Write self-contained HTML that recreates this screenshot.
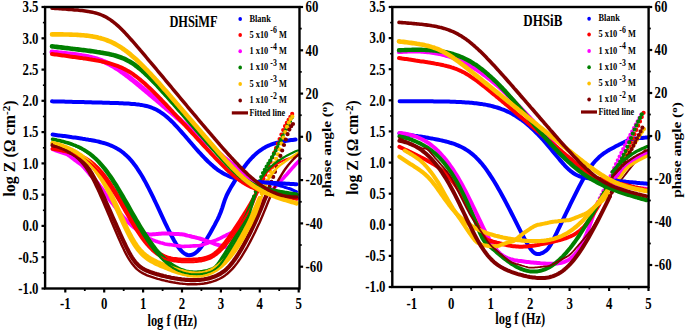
<!DOCTYPE html><html><head><meta charset="utf-8"><style>html,body{margin:0;padding:0;background:#fff;width:685px;height:330px;overflow:hidden}svg{display:block}text{font-family:"Liberation Serif",serif;fill:#000}</style></head><body>
<svg width="685" height="330" viewBox="0 0 685 330">
<path d="M52.6,134.6 L54.1,134.8 L55.6,135.0 L57.1,135.2 L58.6,135.4 L60.1,135.6 L61.6,135.7 L63.1,135.9 L64.6,136.1 L66.1,136.3 L67.6,136.5 L69.1,136.7 L70.6,136.9 L72.1,137.2 L73.6,137.4 L75.1,137.6 L76.6,137.8 L78.1,138.0 L79.6,138.2 L81.1,138.4 L82.6,138.7 L84.1,138.9 L85.6,139.2 L87.1,139.4 L88.6,139.7 L90.1,139.9 L91.6,140.2 L93.1,140.5 L94.6,140.8 L96.1,141.1 L97.6,141.4 L99.1,141.8 L100.6,142.2 L102.1,142.6 L103.6,143.0 L105.1,143.4 L106.6,143.9 L108.1,144.4 L109.6,145.0 L111.1,145.6 L112.6,146.3 L114.1,147.0 L115.6,147.7 L117.1,148.6 L118.6,149.5 L120.1,150.4 L121.6,151.5 L123.1,152.6 L124.6,153.9 L126.1,155.2 L127.6,156.6 L129.1,158.2 L130.6,159.8 L132.1,161.6 L133.6,163.5 L135.1,165.4 L136.6,167.5 L138.1,169.8 L139.6,172.1 L141.1,174.5 L142.6,177.0 L144.1,179.7 L145.6,182.4 L147.1,185.2 L148.6,188.1 L150.1,191.1 L151.6,194.1 L153.1,197.2 L154.6,200.3 L156.1,203.5 L157.6,206.7 L159.1,209.9 L160.6,213.2 L162.1,216.4 L163.6,219.6 L165.1,222.8 L166.6,225.9 L168.1,229.0 L169.6,232.0 L171.1,235.0 L172.6,237.8 L174.1,240.5 L175.6,243.0 L177.1,245.3 L178.6,247.5 L180.1,249.4 L181.6,251.1 L183.1,252.5 L184.6,253.6 L186.1,254.5 L187.6,255.0 L189.1,255.2 L190.6,255.1 L192.1,254.8 L193.6,254.1 L195.1,253.2 L196.6,252.0 L198.1,250.6 L199.6,248.9 L201.1,247.1 L202.6,245.1 L204.1,242.9 L205.6,240.7 L207.1,238.3 L208.6,235.8 L210.1,233.2 L211.6,230.5 L213.1,227.8 L214.6,225.1 L216.1,222.2 L217.6,219.3 L219.1,216.1 L220.6,212.5 L222.1,208.3 L223.6,203.6 L225.1,199.2 L226.6,195.5 L228.1,192.5 L229.6,189.7 L231.1,187.1 L232.6,184.6 L234.1,182.1 L235.6,179.7 L237.1,177.3 L238.6,175.0 L240.1,172.8 L241.6,170.6 L243.1,168.5 L244.6,166.5 L246.1,164.5 L247.6,162.6 L249.1,160.8 L250.6,159.1 L252.1,157.5 L253.6,156.0 L255.1,154.6 L256.6,153.2 L258.1,152.0 L259.6,150.9 L261.1,149.8 L262.6,148.8 L264.1,147.9 L265.6,147.1 L267.1,146.3 L268.6,145.6 L270.1,145.0 L271.6,144.4 L273.1,143.9 L274.6,143.4 L276.1,143.0 L277.6,142.6 L279.1,142.2 L280.6,141.9 L282.1,141.6 L283.6,141.3 L285.1,141.0 L286.6,140.8 L288.1,140.6 L289.6,140.3 L291.1,140.1 L292.6,140.0 L294.1,139.8 L295.6,139.6" fill="none" stroke="#0000ff" stroke-width="4.0" stroke-linecap="round" stroke-linejoin="round"/>
<path d="M52.6,149.2 L54.1,149.7 L55.6,150.3 L57.1,150.8 L58.6,151.3 L60.1,151.8 L61.6,152.4 L63.1,152.9 L64.6,153.4 L66.1,153.9 L67.6,154.5 L69.1,155.5 L70.6,156.7 L72.1,157.8 L73.6,158.9 L75.1,160.1 L76.6,161.2 L78.1,162.3 L79.6,163.3 L81.1,164.4 L82.6,165.8 L84.1,167.4 L85.6,169.2 L87.1,171.0 L88.6,172.8 L90.1,174.6 L91.6,176.3 L93.1,178.0 L94.6,179.6 L96.1,181.3 L97.6,183.1 L99.1,184.9 L100.6,186.9 L102.1,189.0 L103.6,191.2 L105.1,193.5 L106.6,195.7 L108.1,197.8 L109.6,199.8 L111.1,201.6 L112.6,203.4 L114.1,205.4 L115.6,207.3 L117.1,209.3 L118.6,211.2 L120.1,213.2 L121.6,215.1 L123.1,216.9 L124.6,218.5 L126.1,220.0 L127.6,221.5 L129.1,223.0 L130.6,224.4 L132.1,225.8 L133.6,227.1 L135.1,228.2 L136.6,229.3 L138.1,230.2 L139.6,231.0 L141.1,231.8 L142.6,232.6 L144.1,233.2 L145.6,233.7 L147.1,234.1 L148.6,234.3 L150.1,234.4 L151.6,234.4 L153.1,234.3 L154.6,234.2 L156.1,234.1 L157.6,233.9 L159.1,233.8 L160.6,233.7 L162.1,233.6 L163.6,233.5 L165.1,233.4 L166.6,233.4 L168.1,233.4 L169.6,233.6 L171.1,233.7 L172.6,233.8 L174.1,233.9 L175.6,233.9 L177.1,234.0 L178.6,234.1 L180.1,234.2 L181.6,234.2 L183.1,234.4 L184.6,234.8 L186.1,235.2 L187.6,235.6 L189.1,235.9 L190.6,236.3 L192.1,236.7 L193.6,237.0 L195.1,237.4 L196.6,237.8 L198.1,238.1 L199.6,238.5 L201.1,239.0 L202.6,239.5 L204.1,240.0 L205.6,240.6 L207.1,241.1 L208.6,241.6 L210.1,242.2 L211.6,242.7 L213.1,243.2 L214.6,243.8 L216.1,244.4 L217.6,244.8 L219.1,245.2 L220.6,245.5 L222.1,245.9 L223.6,246.3 L225.1,246.7 L226.6,247.1 L228.0,247.4" fill="none" stroke="#ff00ff" stroke-width="4.0" stroke-linecap="round" stroke-linejoin="round"/>
<path d="M138.0,231.0 L139.5,232.1 L141.0,233.1 L142.5,234.2 L144.0,235.2 L145.5,236.2 L147.0,237.1 L148.5,238.0 L150.0,238.8 L151.5,239.5 L153.0,240.1 L154.5,240.7 L156.0,241.3 L157.5,241.8 L159.0,242.2 L160.5,242.7 L162.0,243.1 L163.5,243.5 L165.0,243.9 L166.5,244.2 L168.0,244.5 L169.5,244.6 L171.0,244.8 L172.5,245.0 L174.0,245.2 L175.5,245.5 L177.0,245.7 L178.5,245.9 L180.0,246.1 L181.5,246.4 L183.0,246.5 L184.5,246.4 L186.0,246.3 L187.5,246.2 L189.0,246.2 L190.5,246.1 L192.0,246.0 L193.5,245.9 L195.0,245.9 L196.5,245.8 L198.0,245.7 L199.5,245.7 L201.0,245.3 L202.5,244.8 L204.0,244.2 L205.5,243.7 L207.0,243.2 L208.5,242.7 L210.0,242.1 L211.5,241.6 L213.0,241.1 L214.5,240.6 L216.0,240.1 L217.5,239.5 L219.0,238.8 L220.5,238.1 L222.0,237.3 L223.5,236.5 L225.0,235.8 L226.5,235.0 L228.0,234.3 L229.5,233.6 L231.0,232.9 L232.5,232.2 L234.0,231.4 L235.5,230.5 L237.0,229.5 L238.5,228.5 L240.0,227.5 L241.5,226.5 L243.0,225.4 L244.5,224.3 L246.0,223.1 L247.5,221.8 L249.0,220.2 L250.5,218.5 L252.0,216.6 L253.5,214.6 L255.0,212.4 L256.5,210.2 L258.0,208.0 L259.5,205.7 L261.0,203.5 L262.5,201.4 L264.0,199.4 L265.5,197.6 L267.0,195.9 L268.5,194.2 L270.0,192.5 L271.5,190.9 L273.0,189.2 L274.5,187.6 L276.0,186.0 L277.5,184.4 L279.0,182.8 L280.5,181.2 L282.0,179.6 L283.5,178.0 L285.0,176.3 L286.5,174.7 L288.0,173.0 L289.5,171.3 L291.0,169.6 L292.5,167.9 L294.0,166.2 L295.5,164.6 L297.0,163.0 L298.5,161.4 L299.0,160.9" fill="none" stroke="#ff00ff" stroke-width="3.6" stroke-linecap="round" stroke-linejoin="round"/>
<path d="M52.6,148.7 L54.1,148.9 L55.6,149.2 L57.1,149.5 L58.6,149.8 L60.1,150.1 L61.6,150.4 L63.1,150.7 L64.6,151.1 L66.1,151.4 L67.6,151.8 L69.1,152.2 L70.6,152.6 L72.1,153.0 L73.6,153.5 L75.1,154.0 L76.6,154.5 L78.1,155.0 L79.6,155.6 L81.1,156.3 L82.6,157.0 L84.1,157.7 L85.6,158.5 L87.1,159.4 L88.6,160.4 L90.1,161.4 L91.6,162.6 L93.1,163.8 L94.6,165.1 L96.1,166.5 L97.6,167.9 L99.1,169.5 L100.6,171.2 L102.1,172.9 L103.6,174.8 L105.1,176.7 L106.6,178.7 L108.1,180.8 L109.6,183.0 L111.1,185.2 L112.6,187.5 L114.1,189.9 L115.6,192.2 L117.1,194.7 L118.6,197.1 L120.1,199.6 L121.6,202.1 L123.1,204.6 L124.6,207.2 L126.1,209.7 L127.6,212.3 L129.1,214.8 L130.6,217.3 L132.1,219.8 L133.6,222.3 L135.1,224.7 L136.6,227.1 L138.1,229.4 L139.6,231.7 L141.1,233.9 L142.6,236.1 L144.1,238.2 L145.6,240.2 L147.1,242.1 L148.6,243.9 L150.1,245.5 L151.6,247.1 L153.1,248.6 L154.6,250.0 L156.1,251.2 L157.6,252.4 L159.1,253.4 L160.6,254.3 L162.1,255.1 L163.6,255.9 L165.1,256.5 L166.6,257.1 L168.1,257.6 L169.6,258.0 L171.1,258.4 L172.6,258.7 L174.1,258.9 L175.6,259.1 L177.1,259.3 L178.6,259.5 L180.1,259.6 L181.6,259.7 L183.1,259.7 L184.6,259.8 L186.1,259.8 L187.6,259.8 L189.1,259.8 L190.6,259.8 L192.1,259.7 L193.6,259.6 L195.1,259.5 L196.6,259.4 L198.1,259.3 L199.6,259.1 L201.1,258.9 L202.6,258.6 L204.1,258.3 L205.6,257.9 L207.1,257.5 L208.6,256.9 L210.1,256.3 L211.6,255.5 L213.1,254.6 L214.6,253.6 L216.1,252.4 L217.6,251.1 L219.1,249.7 L220.6,248.1 L222.1,246.4 L223.6,244.6 L225.1,242.7 L226.6,240.7 L228.1,238.7 L229.6,236.6 L231.1,234.4 L232.6,232.2 L234.1,230.0 L235.6,227.7 L237.1,225.4 L238.6,223.1 L240.1,220.8 L241.6,218.4 L243.1,216.0 L244.6,213.6 L246.1,211.2 L247.6,208.7 L249.1,206.2 L250.6,203.7 L252.1,201.1 L253.6,198.4 L255.1,195.6 L256.6,192.8 L258.1,189.9" fill="none" stroke="#ff0000" stroke-width="4.0" stroke-linecap="round" stroke-linejoin="round"/>
<path d="M258.0 190.1h0M259.8 186.5h0M261.6 182.7h0M263.4 178.8h0M265.2 174.7h0M267.0 170.5h0M268.8 166.2h0M270.6 161.8h0M272.4 157.4h0M274.2 152.8h0M276.0 148.2h0M277.8 143.6h0M279.6 139.0h0M281.4 134.5h0M283.2 130.1h0M285.0 126.2h0M286.8 122.9h0M288.6 119.8h0M290.4 116.8h0M292.2 113.9h0" stroke="#ff0000" stroke-width="4.2" stroke-linecap="round" fill="none"/>
<path d="M52.6,139.2 L54.1,139.5 L55.6,139.8 L57.1,140.2 L58.6,140.5 L60.1,140.8 L61.6,141.2 L63.1,141.6 L64.6,142.0 L66.1,142.4 L67.6,142.8 L69.1,143.3 L70.6,143.8 L72.1,144.3 L73.6,144.9 L75.1,145.4 L76.6,146.1 L78.1,146.7 L79.6,147.4 L81.1,148.2 L82.6,149.0 L84.1,149.8 L85.6,150.7 L87.1,151.7 L88.6,152.7 L90.1,153.8 L91.6,154.9 L93.1,156.2 L94.6,157.5 L96.1,158.9 L97.6,160.3 L99.1,161.8 L100.6,163.4 L102.1,165.1 L103.6,166.9 L105.1,168.7 L106.6,170.7 L108.1,172.7 L109.6,174.8 L111.1,176.9 L112.6,179.1 L114.1,181.4 L115.6,183.8 L117.1,186.1 L118.6,188.6 L120.1,191.1 L121.6,193.6 L123.1,196.2 L124.6,198.8 L126.1,201.4 L127.6,204.0 L129.1,206.7 L130.6,209.3 L132.1,212.0 L133.6,214.6 L135.1,217.2 L136.6,219.8 L138.1,222.3 L139.6,224.9 L141.1,227.4 L142.6,229.8 L144.1,232.2 L145.6,234.5 L147.1,236.8 L148.6,239.1 L150.1,241.2 L151.6,243.3 L153.1,245.4 L154.6,247.4 L156.1,249.3 L157.6,251.1 L159.1,252.8 L160.6,254.5 L162.1,256.1 L163.6,257.6 L165.1,259.0 L166.6,260.4 L168.1,261.7 L169.6,262.9 L171.1,264.0 L172.6,265.1 L174.1,266.0 L175.6,266.9 L177.1,267.7 L178.6,268.5 L180.1,269.2 L181.6,269.8 L183.1,270.3 L184.6,270.8 L186.1,271.2 L187.6,271.5 L189.1,271.8 L190.6,272.0 L192.1,272.1 L193.6,272.2 L195.1,272.2 L196.6,272.2 L198.1,272.1 L199.6,272.0 L201.1,271.8 L202.6,271.6 L204.1,271.3 L205.6,271.0 L207.1,270.7 L208.6,270.3 L210.1,269.8 L211.6,269.3 L213.1,268.6 L214.6,267.7 L216.1,266.3 L217.6,264.6 L219.1,262.6 L220.6,260.4 L222.1,258.1 L223.6,255.8 L225.1,253.4 L226.6,251.0 L228.1,248.6 L229.6,246.1 L231.1,243.7 L232.6,241.1 L234.1,238.6 L235.6,236.0 L237.1,233.3 L238.6,230.6 L240.1,227.9 L241.6,225.0 L243.1,222.1 L244.6,219.1 L246.1,215.9 L247.6,212.7 L249.1,209.2 L250.6,205.6 L252.1,201.8 L253.6,197.8" fill="none" stroke="#008000" stroke-width="3.6" stroke-linecap="round" stroke-linejoin="round"/>
<path d="M254.0 196.7h0M255.8 191.6h0M257.6 186.4h0M259.4 181.4h0M261.2 177.0h0M263.0 173.1h0M264.8 169.8h0M266.6 166.7h0M268.4 163.6h0M270.2 160.5h0M272.0 157.3h0M273.8 153.9h0M275.6 150.5h0M277.4 147.0h0M279.2 143.4h0M281.0 139.8h0M282.8 136.2h0M284.6 132.5h0M286.4 128.8h0M288.2 125.1h0M290.0 121.3h0M291.8 117.6h0" stroke="#008000" stroke-width="4.2" stroke-linecap="round" fill="none"/>
<path d="M52.6,143.1 L54.1,143.5 L55.6,143.9 L57.1,144.3 L58.6,144.8 L60.1,145.3 L61.6,145.8 L63.1,146.3 L64.6,146.9 L66.1,147.5 L67.6,148.1 L69.1,148.8 L70.6,149.5 L72.1,150.2 L73.6,151.0 L75.1,151.8 L76.6,152.7 L78.1,153.7 L79.6,154.6 L81.1,155.7 L82.6,156.8 L84.1,158.0 L85.6,159.2 L87.1,160.5 L88.6,161.9 L90.1,163.4 L91.6,165.0 L93.1,166.7 L94.6,168.4 L96.1,170.3 L97.6,172.2 L99.1,174.3 L100.6,176.5 L102.1,178.8 L103.6,181.1 L105.1,183.6 L106.6,186.3 L108.1,189.0 L109.6,191.8 L111.1,194.7 L112.6,197.7 L114.1,200.8 L115.6,204.0 L117.1,207.2 L118.6,210.4 L120.1,213.7 L121.6,217.0 L123.1,220.3 L124.6,223.6 L126.1,226.8 L127.6,229.9 L129.1,232.9 L130.6,235.7 L132.1,238.5 L133.6,241.0 L135.1,243.4 L136.6,245.6 L138.1,247.6 L139.6,249.5 L141.1,251.2 L142.6,252.7 L144.1,254.1 L145.6,255.3 L147.1,256.4 L148.6,257.5 L150.1,258.4 L151.6,259.3 L153.1,260.1 L154.6,260.8 L156.1,261.6 L157.6,262.3 L159.1,262.9 L160.6,263.6 L162.1,264.2 L163.6,264.8 L165.1,265.5 L166.6,266.1 L168.1,266.6 L169.6,267.2 L171.1,267.8 L172.6,268.4 L174.1,268.9 L175.6,269.4 L177.1,269.9 L178.6,270.4 L180.1,270.9 L181.6,271.3 L183.1,271.8 L184.6,272.1 L186.1,272.5 L187.6,272.8 L189.1,273.1 L190.6,273.3 L192.1,273.5 L193.6,273.6 L195.1,273.7 L196.6,273.7 L198.1,273.7 L199.6,273.6 L201.1,273.5 L202.6,273.3 L204.1,273.0 L205.6,272.6 L207.1,272.1 L208.6,271.6 L210.1,271.0 L211.6,270.3 L213.1,269.5 L214.6,268.7 L216.1,267.7 L217.6,266.6 L219.1,265.5 L220.6,264.2 L222.1,262.9 L223.6,261.4 L225.1,259.9 L226.6,258.2 L228.1,256.5 L229.6,254.6 L231.1,252.7 L232.6,250.6 L234.1,248.5 L235.6,246.2 L237.1,243.9 L238.6,241.5 L240.1,238.9 L241.6,236.3 L243.1,233.6 L244.6,230.8 L246.1,227.9 L247.6,224.9 L249.1,221.9 L250.6,218.8 L252.1,215.6 L253.6,212.3 L255.1,209.0 L256.6,205.7 L258.1,202.2 L259.6,198.7" fill="none" stroke="#ffc000" stroke-width="4.6" stroke-linecap="round" stroke-linejoin="round"/>
<path d="M260.0 197.8h0M261.8 193.5h0M263.6 189.2h0M265.4 184.9h0M267.2 180.5h0M269.0 176.2h0M270.8 171.8h0M272.6 167.5h0M274.4 163.2h0M276.2 158.9h0M278.0 154.4h0M279.8 149.3h0M281.6 143.6h0M283.4 137.7h0M285.2 132.0h0M287.0 126.9h0M288.8 122.6h0M290.6 119.1h0M292.4 116.6h0" stroke="#ffc000" stroke-width="4.2" stroke-linecap="round" fill="none"/>
<path d="M52.6,145.2 L54.1,145.8 L55.6,146.3 L57.1,146.9 L58.6,147.4 L60.1,148.0 L61.6,148.6 L63.1,149.2 L64.6,149.8 L66.1,150.4 L67.6,151.1 L69.1,151.8 L70.6,152.5 L72.1,153.3 L73.6,154.2 L75.1,155.1 L76.6,156.1 L78.1,157.2 L79.6,158.4 L81.1,159.7 L82.6,161.2 L84.1,162.8 L85.6,164.6 L87.1,166.6 L88.6,168.7 L90.1,171.0 L91.6,173.4 L93.1,176.0 L94.6,178.7 L96.1,181.5 L97.6,184.5 L99.1,187.5 L100.6,190.6 L102.1,193.8 L103.6,197.0 L105.1,200.3 L106.6,203.6 L108.1,206.9 L109.6,210.2 L111.1,213.6 L112.6,217.0 L114.1,220.3 L115.6,223.7 L117.1,227.1 L118.6,230.4 L120.1,233.8 L121.6,237.1 L123.1,240.3 L124.6,243.5 L126.1,246.6 L127.6,249.6 L129.1,252.4 L130.6,255.1 L132.1,257.6 L133.6,259.8 L135.1,261.8 L136.6,263.6 L138.1,265.1 L139.6,266.4 L141.1,267.5 L142.6,268.5 L144.1,269.4 L145.6,270.1 L147.1,270.8 L148.6,271.4 L150.1,272.0 L151.6,272.5 L153.1,273.0 L154.6,273.5 L156.1,273.9 L157.6,274.4 L159.1,274.8 L160.6,275.2 L162.1,275.6 L163.6,276.0 L165.1,276.3 L166.6,276.7 L168.1,277.0 L169.6,277.3 L171.1,277.7 L172.6,278.0 L174.1,278.2 L175.6,278.5 L177.1,278.7 L178.6,279.0 L180.1,279.2 L181.6,279.4 L183.1,279.5 L184.6,279.7 L186.1,279.8 L187.6,279.9 L189.1,280.0 L190.6,280.1 L192.1,280.1 L193.6,280.1 L195.1,280.1 L196.6,280.0 L198.1,279.9 L199.6,279.8 L201.1,279.7 L202.6,279.5 L204.1,279.3 L205.6,279.0 L207.1,278.7 L208.6,278.4 L210.1,278.0 L211.6,277.5 L213.1,277.0 L214.6,276.5 L216.1,275.9 L217.6,275.2 L219.1,274.4 L220.6,273.6 L222.1,272.6 L223.6,271.6 L225.1,270.4 L226.6,269.1 L228.1,267.6 L229.6,266.0 L231.1,264.2 L232.6,262.4 L234.1,260.3 L235.6,258.2 L237.1,256.0 L238.6,253.6 L240.1,251.2 L241.6,248.6 L243.1,246.0 L244.6,243.3 L246.1,240.5 L247.6,237.6 L249.1,234.7 L250.6,231.7 L252.1,228.6 L253.6,225.4 L255.1,222.1 L256.6,218.8 L258.1,215.4 L259.6,211.9 L261.1,208.4 L262.6,204.7 L264.1,201.0 L265.6,197.2" fill="none" stroke="#800000" stroke-width="4.2" stroke-linecap="round" stroke-linejoin="round"/>
<path d="M266.0 196.2h0M267.8 191.5h0M269.6 186.7h0M271.4 181.9h0M273.2 176.9h0M275.0 171.8h0M276.8 166.6h0M278.6 161.3h0M280.4 155.9h0M282.2 150.5h0M284.0 145.0h0M285.8 139.5h0M287.6 134.2h0M289.4 129.6h0M291.2 126.2h0M293.0 124.0h0" stroke="#800000" stroke-width="4.2" stroke-linecap="round" fill="none"/>
<path d="M54.1,148.9 L55.6,149.2 L57.1,149.5 L58.6,149.9 L60.1,150.2 L61.6,150.5 L63.1,150.9 L64.6,151.3 L66.1,151.7 L67.6,152.1 L69.1,152.6 L70.6,153.0 L72.1,153.5 L73.6,154.0 L75.1,154.6 L76.6,155.2 L78.1,155.8 L79.6,156.5 L81.1,157.2 L82.6,158.0 L84.1,158.9 L85.6,159.8 L87.1,160.8 L88.6,161.8 L90.1,163.0 L91.6,164.2 L93.1,165.5 L94.6,167.0 L96.1,168.5 L97.6,170.1 L99.1,171.8 L100.6,173.6 L102.1,175.5 L103.6,177.5 L105.1,179.5 L106.6,181.7 L108.1,183.9 L109.6,186.2 L111.1,188.5 L112.6,190.9 L114.1,193.4 L115.6,195.9 L117.1,198.4 L118.6,201.0 L120.1,203.6 L121.6,206.2 L123.1,208.8 L124.6,211.4 L126.1,214.0 L127.6,216.6 L129.1,219.2 L130.6,221.8 L132.1,224.3 L133.6,226.8 L135.1,229.2 L136.6,231.5 L138.1,233.8 L139.6,236.0 L141.1,238.2 L142.6,240.2 L144.1,242.1 L145.6,244.0 L147.1,245.7 L148.6,247.4 L150.1,248.9 L151.6,250.4 L153.1,251.7 L154.6,253.0 L156.1,254.1 L157.6,255.2 L159.1,256.1 L160.6,257.0 L162.1,257.7 L163.6,258.4 L165.1,259.0 L166.6,259.6 L168.1,260.1 L169.6,260.5 L171.1,260.8 L172.6,261.1 L174.1,261.4 L175.6,261.6 L177.1,261.8 L178.6,262.0 L180.1,262.1 L181.6,262.2 L183.1,262.3 L184.6,262.3 L186.1,262.3 L187.6,262.3 L189.1,262.3 L190.6,262.3 L192.1,262.2 L193.6,262.2 L195.1,262.1 L196.6,261.9 L198.1,261.8 L199.6,261.6 L201.1,261.4 L202.6,261.1 L204.1,260.8 L205.6,260.4 L207.1,259.9 L208.6,259.4 L210.1,258.8 L211.6,258.0 L213.1,257.2 L214.6,256.3 L216.1,255.2 L217.6,254.1 L219.1,252.8 L220.6,251.4 L222.1,249.9 L223.6,248.3 L225.1,246.5 L226.6,244.7 L228.1,242.8 L229.6,240.8 L231.1,238.8 L232.6,236.7 L234.1,234.5 L235.6,232.3 L237.1,230.1 L238.6,227.8 L240.1,225.5 L241.6,223.2 L243.1,220.8 L244.6,218.4 L246.1,216.0 L247.6,213.6 L249.1,211.1 L250.6,208.5 L252.1,205.7 L253.6,202.5 L255.1,198.7 L256.6,194.6 L258.1,190.4 L259.6,186.3 L261.1,182.4 L262.6,178.9 L264.1,176.2 L265.6,174.1 L267.1,172.3 L268.6,170.8 L270.1,169.4 L271.6,168.0 L273.1,166.7 L274.6,165.6 L276.1,164.5 L277.6,163.6 L279.1,162.7 L280.6,161.9 L282.1,161.1 L283.6,160.4 L285.1,159.8 L286.6,159.2 L288.1,158.6 L289.6,158.1 L291.1,157.6 L292.6,157.1 L294.1,156.6 L295.6,156.2 L297.1,155.8 L298.0,155.5" fill="none" stroke="#ff0000" stroke-width="2.0" stroke-linecap="round" stroke-linejoin="round"/>
<path d="M54.1,139.5 L55.6,139.8 L57.1,140.2 L58.6,140.6 L60.1,140.9 L61.6,141.3 L63.1,141.8 L64.6,142.2 L66.1,142.7 L67.6,143.1 L69.1,143.7 L70.6,144.2 L72.1,144.8 L73.6,145.4 L75.1,146.0 L76.6,146.7 L78.1,147.4 L79.6,148.2 L81.1,149.0 L82.6,149.9 L84.1,150.8 L85.6,151.8 L87.1,152.8 L88.6,153.9 L90.1,155.1 L91.6,156.3 L93.1,157.6 L94.6,159.0 L96.1,160.5 L97.6,162.0 L99.1,163.7 L100.6,165.4 L102.1,167.2 L103.6,169.1 L105.1,171.0 L106.6,173.1 L108.1,175.2 L109.6,177.4 L111.1,179.6 L112.6,182.0 L114.1,184.3 L115.6,186.8 L117.1,189.3 L118.6,191.8 L120.1,194.4 L121.6,197.1 L123.1,199.7 L124.6,202.4 L126.1,205.1 L127.6,207.8 L129.1,210.5 L130.6,213.2 L132.1,215.9 L133.6,218.5 L135.1,221.2 L136.6,223.8 L138.1,226.4 L139.6,228.9 L141.1,231.4 L142.6,233.8 L144.1,236.2 L145.6,238.5 L147.1,240.8 L148.6,243.0 L150.1,245.1 L151.6,247.1 L153.1,249.1 L154.6,251.0 L156.1,252.8 L157.6,254.5 L159.1,256.1 L160.6,257.7 L162.1,259.2 L163.6,260.7 L165.1,262.0 L166.6,263.3 L168.1,264.5 L169.6,265.6 L171.1,266.7 L172.6,267.7 L174.1,268.6 L175.6,269.4 L177.1,270.2 L178.6,270.9 L180.1,271.5 L181.6,272.1 L183.1,272.6 L184.6,273.0 L186.1,273.4 L187.6,273.7 L189.1,274.0 L190.6,274.2 L192.1,274.3 L193.6,274.4 L195.1,274.4 L196.6,274.4 L198.1,274.4 L199.6,274.3 L201.1,274.1 L202.6,273.9 L204.1,273.6 L205.6,273.3 L207.1,273.0 L208.6,272.5 L210.1,272.0 L211.6,271.4 L213.1,270.6 L214.6,269.7 L216.1,268.6 L217.6,267.2 L219.1,265.7 L220.6,264.0 L222.1,262.0 L223.6,259.9 L225.1,257.7 L226.6,255.4 L228.1,253.0 L229.6,250.6 L231.1,248.2 L232.6,245.7 L234.1,243.2 L235.6,240.6 L237.1,238.0 L238.6,235.4 L240.1,232.7 L241.6,229.9 L243.1,227.1 L244.6,224.2 L246.1,221.2 L247.6,218.1 L249.1,214.6 L250.6,210.5 L252.1,205.7 L253.6,200.8 L255.1,196.2 L256.6,191.5 L258.1,186.7 L259.6,182.2 L261.1,178.8 L262.6,176.3 L264.1,174.1 L265.6,172.2 L267.1,170.4 L268.6,168.9 L270.1,167.4 L271.6,166.1 L273.1,164.8 L274.6,163.6 L276.1,162.5 L277.6,161.4 L279.1,160.4 L280.6,159.4 L282.1,158.5 L283.6,157.5 L285.1,156.6 L286.6,155.8 L288.1,155.0 L289.6,154.2 L291.1,153.4 L292.6,152.7 L294.1,152.0 L295.6,151.3 L297.1,150.8 L298.0,150.5" fill="none" stroke="#008000" stroke-width="2.2" stroke-linecap="round" stroke-linejoin="round"/>
<path d="M54.1,143.4 L55.6,143.9 L57.1,144.4 L58.6,144.9 L60.1,145.4 L61.6,146.0 L63.1,146.6 L64.6,147.2 L66.1,147.8 L67.6,148.5 L69.1,149.3 L70.6,150.0 L72.1,150.9 L73.6,151.7 L75.1,152.6 L76.6,153.6 L78.1,154.6 L79.6,155.7 L81.1,156.8 L82.6,158.0 L84.1,159.3 L85.6,160.7 L87.1,162.1 L88.6,163.6 L90.1,165.2 L91.6,167.0 L93.1,168.8 L94.6,170.7 L96.1,172.7 L97.6,174.8 L99.1,177.1 L100.6,179.4 L102.1,181.9 L103.6,184.5 L105.1,187.1 L106.6,189.9 L108.1,192.8 L109.6,195.8 L111.1,198.9 L112.6,202.1 L114.1,205.3 L115.6,208.6 L117.1,212.0 L118.6,215.3 L120.1,218.7 L121.6,222.0 L123.1,225.2 L124.6,228.4 L126.1,231.5 L127.6,234.5 L129.1,237.4 L130.6,240.1 L132.1,242.7 L133.6,245.1 L135.1,247.3 L136.6,249.4 L138.1,251.3 L139.6,253.0 L141.1,254.6 L142.6,256.0 L144.1,257.4 L145.6,258.6 L147.1,259.7 L148.6,260.7 L150.1,261.6 L151.6,262.5 L153.1,263.3 L154.6,264.1 L156.1,264.8 L157.6,265.5 L159.1,266.1 L160.6,266.8 L162.1,267.4 L163.6,268.0 L165.1,268.6 L166.6,269.2 L168.1,269.8 L169.6,270.4 L171.1,271.0 L172.6,271.5 L174.1,272.0 L175.6,272.5 L177.1,273.0 L178.6,273.5 L180.1,273.9 L181.6,274.4 L183.1,274.7 L184.6,275.1 L186.1,275.4 L187.6,275.7 L189.1,276.0 L190.6,276.2 L192.1,276.3 L193.6,276.5 L195.1,276.5 L196.6,276.6 L198.1,276.5 L199.6,276.4 L201.1,276.3 L202.6,276.1 L204.1,275.8 L205.6,275.4 L207.1,275.0 L208.6,274.5 L210.1,274.0 L211.6,273.3 L213.1,272.6 L214.6,271.8 L216.1,271.0 L217.6,270.0 L219.1,268.9 L220.6,267.8 L222.1,266.6 L223.6,265.2 L225.1,263.8 L226.6,262.3 L228.1,260.7 L229.6,259.0 L231.1,257.2 L232.6,255.3 L234.1,253.3 L235.6,251.2 L237.1,249.1 L238.6,246.8 L240.1,244.4 L241.6,242.0 L243.1,239.4 L244.6,236.8 L246.1,234.0 L247.6,231.2 L249.1,228.3 L250.6,225.4 L252.1,222.3 L253.6,219.1 L255.1,215.8 L256.6,212.2 L258.1,208.2 L259.6,203.8 L261.1,199.0 L262.6,194.2 L264.1,189.6 L265.6,185.6 L267.1,182.1 L268.6,179.2 L270.1,176.8 L271.6,174.6 L273.1,172.7 L274.6,170.8 L276.1,169.0 L277.6,167.3 L279.1,166.0 L280.6,164.9 L282.1,163.8 L283.6,162.7 L285.1,161.6 L286.6,160.5 L288.1,159.5 L289.6,158.4 L291.1,157.4 L292.6,156.4 L294.1,155.4 L295.6,154.4 L297.1,153.4 L297.7,153.0" fill="none" stroke="#ffc000" stroke-width="2.4" stroke-linecap="round" stroke-linejoin="round"/>
<path d="M54.1,145.8 L55.6,146.3 L57.1,146.9 L58.6,147.5 L60.1,148.2 L61.6,148.8 L63.1,149.5 L64.6,150.2 L66.1,150.9 L67.6,151.7 L69.1,152.5 L70.6,153.4 L72.1,154.3 L73.6,155.3 L75.1,156.4 L76.6,157.6 L78.1,158.9 L79.6,160.4 L81.1,161.9 L82.6,163.7 L84.1,165.5 L85.6,167.6 L87.1,169.8 L88.6,172.2 L90.1,174.8 L91.6,177.5 L93.1,180.3 L94.6,183.3 L96.1,186.4 L97.6,189.6 L99.1,192.8 L100.6,196.2 L102.1,199.6 L103.6,203.0 L105.1,206.5 L106.6,210.0 L108.1,213.6 L109.6,217.1 L111.1,220.7 L112.6,224.2 L114.1,227.8 L115.6,231.3 L117.1,234.8 L118.6,238.2 L120.1,241.6 L121.6,244.9 L123.1,248.1 L124.6,251.2 L126.1,254.1 L127.6,256.8 L129.1,259.3 L130.6,261.6 L132.1,263.7 L133.6,265.6 L135.1,267.3 L136.6,268.8 L138.1,270.1 L139.6,271.2 L141.1,272.2 L142.6,273.1 L144.1,273.9 L145.6,274.6 L147.1,275.3 L148.6,275.9 L150.1,276.4 L151.6,276.9 L153.1,277.4 L154.6,277.9 L156.1,278.3 L157.6,278.8 L159.1,279.2 L160.6,279.6 L162.1,280.0 L163.6,280.3 L165.1,280.7 L166.6,281.0 L168.1,281.4 L169.6,281.7 L171.1,282.0 L172.6,282.3 L174.1,282.5 L175.6,282.8 L177.1,283.0 L178.6,283.3 L180.1,283.5 L181.6,283.6 L183.1,283.8 L184.6,283.9 L186.1,284.1 L187.6,284.2 L189.1,284.2 L190.6,284.3 L192.1,284.3 L193.6,284.3 L195.1,284.3 L196.6,284.2 L198.1,284.1 L199.6,284.0 L201.1,283.9 L202.6,283.7 L204.1,283.5 L205.6,283.2 L207.1,283.0 L208.6,282.6 L210.1,282.3 L211.6,281.8 L213.1,281.4 L214.6,280.9 L216.1,280.3 L217.6,279.7 L219.1,279.0 L220.6,278.2 L222.1,277.4 L223.6,276.4 L225.1,275.4 L226.6,274.3 L228.1,273.0 L229.6,271.7 L231.1,270.2 L232.6,268.6 L234.1,266.9 L235.6,265.1 L237.1,263.1 L238.6,261.0 L240.1,258.9 L241.6,256.6 L243.1,254.2 L244.6,251.7 L246.1,249.1 L247.6,246.5 L249.1,243.7 L250.6,240.9 L252.1,238.0 L253.6,235.0 L255.1,232.0 L256.6,228.8 L258.1,225.6 L259.6,222.4 L261.1,219.0 L262.6,215.5 L264.1,211.9 L265.6,208.2 L267.1,204.5 L268.6,200.7 L270.1,197.2 L271.6,193.8 L273.1,190.5 L274.6,187.4 L276.1,184.4 L277.6,181.5 L279.1,178.8 L280.6,176.3 L282.1,173.9 L283.6,171.5 L285.1,169.3 L286.6,167.2 L288.1,165.3 L289.6,163.5 L291.1,161.8 L292.6,160.1 L294.1,158.5 L295.6,157.1 L297.1,155.7 L298.5,154.5" fill="none" stroke="#800000" stroke-width="2.4" stroke-linecap="round" stroke-linejoin="round"/>
<path d="M52.0,101.3 L53.5,101.4 L55.0,101.4 L56.5,101.4 L58.0,101.5 L59.5,101.5 L61.0,101.6 L62.5,101.6 L64.0,101.6 L65.5,101.7 L67.0,101.7 L68.5,101.8 L70.0,101.8 L71.5,101.8 L73.0,101.9 L74.5,101.9 L76.0,101.9 L77.5,102.0 L79.0,102.0 L80.5,102.1 L82.0,102.1 L83.5,102.1 L85.0,102.2 L86.5,102.2 L88.0,102.3 L89.5,102.3 L91.0,102.3 L92.5,102.4 L94.0,102.4 L95.5,102.5 L97.0,102.5 L98.5,102.5 L100.0,102.6 L101.5,102.6 L103.0,102.7 L104.5,102.7 L106.0,102.7 L107.5,102.8 L109.0,102.8 L110.5,102.9 L112.0,102.9 L113.5,103.0 L115.0,103.0 L116.5,103.1 L118.0,103.1 L119.5,103.2 L121.0,103.3 L122.5,103.3 L124.0,103.4 L125.5,103.5 L127.0,103.6 L128.5,103.6 L130.0,103.7 L131.5,103.9 L133.0,104.0 L134.5,104.1 L136.0,104.3 L137.5,104.4 L139.0,104.6 L140.5,104.9 L142.0,105.1 L143.5,105.4 L145.0,105.7 L146.5,106.0 L148.0,106.4 L149.5,106.9 L151.0,107.4 L152.5,108.0 L154.0,108.6 L155.5,109.3 L157.0,110.1 L158.5,110.9 L160.0,111.8 L161.5,112.8 L163.0,113.9 L164.5,115.0 L166.0,116.2 L167.5,117.5 L169.0,118.9 L170.5,120.3 L172.0,121.7 L173.5,123.2 L175.0,124.8 L176.5,126.4 L178.0,128.0 L179.5,129.7 L181.0,131.4 L182.5,133.1 L184.0,134.8 L185.5,136.5 L187.0,138.3 L188.5,140.0 L190.0,141.8 L191.5,143.5 L193.0,145.2 L194.5,147.0 L196.0,148.7 L197.5,150.4 L199.0,152.1 L200.5,153.7 L202.0,155.3 L203.5,156.9 L205.0,158.5 L206.5,160.0 L208.0,161.5 L209.5,162.9 L211.0,164.3 L212.5,165.6 L214.0,166.9 L215.5,168.1 L217.0,169.3 L218.5,170.4 L220.0,171.4 L221.5,172.3 L223.0,173.2 L224.5,174.1 L226.0,174.8 L227.5,175.5 L229.0,176.2 L230.5,176.8 L232.0,177.3 L233.5,177.8 L235.0,178.3 L236.5,178.7 L238.0,179.1 L239.5,179.4 L241.0,179.7 L242.5,180.0 L244.0,180.3 L245.5,180.5 L247.0,180.7 L248.5,180.9 L250.0,181.1 L251.5,181.3 L253.0,181.4 L254.5,181.6 L256.0,181.7 L257.5,181.9 L259.0,182.0 L260.5,182.1 L262.0,182.2 L263.5,182.3 L265.0,182.4 L266.5,182.5 L268.0,182.6 L269.5,182.7 L271.0,182.8 L272.5,182.9 L274.0,183.0 L275.5,183.1 L277.0,183.2 L278.5,183.3 L280.0,183.4 L281.5,183.4 L283.0,183.5 L284.5,183.6 L286.0,183.7 L287.5,183.8 L289.0,183.8 L290.5,183.9 L292.0,184.0 L293.5,184.1 L295.0,184.2 L296.5,184.2" fill="none" stroke="#0000ff" stroke-width="4.0" stroke-linecap="round" stroke-linejoin="round"/>
<path d="M265.0,182.5 L266.5,182.8 L268.0,183.1 L269.5,183.4 L271.0,183.7 L272.5,184.0 L274.0,184.3 L275.5,184.6 L277.0,184.9 L278.5,185.3 L280.0,185.8 L281.5,186.2 L283.0,186.7 L284.5,187.2 L286.0,187.6 L287.5,188.1 L289.0,188.5 L290.5,189.0 L292.0,189.6 L293.5,190.3 L295.0,191.0 L296.5,191.7 L296.6,191.8" fill="none" stroke="#0000ff" stroke-width="3.0" stroke-linecap="round" stroke-linejoin="round"/>
<path d="M52.0,52.1 L53.5,52.2 L55.0,52.4 L56.5,52.5 L58.0,52.7 L59.5,52.9 L61.0,53.0 L62.5,53.2 L64.0,53.3 L65.5,53.5 L67.0,53.7 L68.5,53.9 L70.0,54.0 L71.5,54.2 L73.0,54.4 L74.5,54.6 L76.0,54.8 L77.5,55.0 L79.0,55.2 L80.5,55.4 L82.0,55.7 L83.5,55.9 L85.0,56.2 L86.5,56.5 L88.0,56.8 L89.5,57.1 L91.0,57.4 L92.5,57.8 L94.0,58.2 L95.5,58.6 L97.0,59.0 L98.5,59.5 L100.0,60.0 L101.5,60.6 L103.0,61.2 L104.5,61.8 L106.0,62.5 L107.5,63.2 L109.0,63.9 L110.5,64.7 L112.0,65.5 L113.5,66.4 L115.0,67.3 L116.5,68.3 L118.0,69.2 L119.5,70.2 L121.0,71.3 L122.5,72.3 L124.0,73.4 L125.5,74.5 L127.0,75.7 L128.5,76.8 L130.0,78.0 L131.5,79.2 L133.0,80.4 L134.5,81.6 L136.0,82.8 L137.5,84.0 L139.0,85.2 L140.5,86.5 L142.0,87.7 L143.5,89.0 L145.0,90.2 L146.5,91.5 L148.0,92.7 L149.5,94.0 L151.0,95.3 L152.5,96.5 L154.0,97.8 L155.5,99.1 L157.0,100.3 L158.5,101.6 L160.0,102.9 L161.5,104.2 L163.0,105.5 L164.5,106.7 L166.0,108.0 L167.5,109.3 L169.0,110.6 L170.5,111.9 L172.0,113.1 L173.5,114.4 L175.0,115.7 L176.5,117.0 L178.0,118.3 L179.5,119.5 L181.0,120.8 L182.5,122.1 L184.0,123.4 L185.5,124.7 L187.0,126.0 L188.5,127.2 L190.0,128.5 L191.5,129.8 L193.0,131.1 L194.5,132.4 L196.0,133.7 L197.5,135.0 L199.0,136.2 L200.5,137.5 L202.0,138.8 L203.5,140.1 L205.0,141.4 L206.5,142.7 L208.0,143.9 L209.5,145.2 L211.0,146.5 L212.5,147.8 L214.0,149.1 L215.5,150.4 L217.0,151.6 L218.5,152.9 L220.0,154.2 L221.5,155.5 L223.0,156.8 L224.5,158.1 L226.0,159.3 L227.5,160.6 L229.0,161.9 L230.5,163.2 L232.0,164.5 L233.5,165.8 L235.0,167.1 L236.5,168.3 L238.0,169.6 L239.5,170.9 L241.0,172.2 L242.5,173.5 L244.0,174.8 L245.5,176.0 L247.0,177.3 L248.5,178.6 L250.0,179.9 L251.5,181.2 L253.0,182.4 L254.5,183.7 L256.0,185.0 L257.5,186.1 L259.0,187.2 L260.5,188.1 L262.0,188.7 L263.5,189.2 L265.0,189.7 L266.5,190.1 L268.0,190.5 L269.5,190.9 L271.0,191.3 L272.5,191.7 L274.0,192.0 L275.5,192.4 L277.0,192.8 L278.5,193.2 L280.0,193.6 L281.5,194.0 L283.0,194.4 L284.5,194.8 L286.0,195.1 L287.5,195.5 L289.0,195.9 L290.5,196.3 L292.0,196.7 L293.5,197.1 L295.0,197.5 L296.5,197.9" fill="none" stroke="#ff00ff" stroke-width="5.0" stroke-linecap="round" stroke-linejoin="round"/>
<path d="M52.0,54.1 L53.5,54.3 L55.0,54.5 L56.5,54.6 L58.0,54.8 L59.5,55.0 L61.0,55.2 L62.5,55.4 L64.0,55.6 L65.5,55.8 L67.0,56.0 L68.5,56.2 L70.0,56.5 L71.5,56.7 L73.0,56.9 L74.5,57.1 L76.0,57.3 L77.5,57.5 L79.0,57.7 L80.5,57.9 L82.0,58.1 L83.5,58.4 L85.0,58.6 L86.5,58.8 L88.0,59.0 L89.5,59.3 L91.0,59.5 L92.5,59.8 L94.0,60.0 L95.5,60.3 L97.0,60.6 L98.5,60.8 L100.0,61.1 L101.5,61.4 L103.0,61.8 L104.5,62.1 L106.0,62.5 L107.5,62.8 L109.0,63.2 L110.5,63.6 L112.0,64.1 L113.5,64.6 L115.0,65.1 L116.5,65.6 L118.0,66.2 L119.5,66.8 L121.0,67.4 L122.5,68.1 L124.0,68.9 L125.5,69.6 L127.0,70.5 L128.5,71.3 L130.0,72.2 L131.5,73.2 L133.0,74.2 L134.5,75.3 L136.0,76.4 L137.5,77.5 L139.0,78.7 L140.5,79.9 L142.0,81.2 L143.5,82.5 L145.0,83.8 L146.5,85.2 L148.0,86.6 L149.5,88.0 L151.0,89.4 L152.5,90.9 L154.0,92.4 L155.5,93.9 L157.0,95.4 L158.5,96.9 L160.0,98.5 L161.5,100.0 L163.0,101.6 L164.5,103.2 L166.0,104.7 L167.5,106.3 L169.0,107.9 L170.5,109.5 L172.0,111.1 L173.5,112.8 L175.0,114.4 L176.5,116.0 L178.0,117.6 L179.5,119.2 L181.0,120.8 L182.5,122.5 L184.0,124.1 L185.5,125.7 L187.0,127.4 L188.5,129.0 L190.0,130.6 L191.5,132.3 L193.0,133.9 L194.5,135.5 L196.0,137.1 L197.5,138.8 L199.0,140.4 L200.5,142.0 L202.0,143.7 L203.5,145.3 L205.0,146.9 L206.5,148.5 L208.0,150.1 L209.5,151.7 L211.0,153.3 L212.5,154.9 L214.0,156.5 L215.5,158.1 L217.0,159.6 L218.5,161.2 L220.0,162.7 L221.5,164.2 L223.0,165.7 L224.5,167.2 L226.0,168.7 L227.5,170.1 L229.0,171.5 L230.5,172.8 L232.0,174.2 L233.5,175.5 L235.0,176.7 L236.5,177.9 L238.0,179.0 L239.5,180.1 L241.0,181.2 L242.5,182.2 L244.0,183.1 L245.5,184.0 L247.0,184.9 L248.5,185.6 L250.0,186.4 L251.5,187.1 L253.0,187.7 L254.5,188.3 L256.0,188.9 L257.5,189.5 L259.0,190.0 L260.5,190.5 L262.0,190.9 L263.5,191.4 L265.0,191.8 L266.5,192.2 L268.0,192.6 L269.5,193.0 L271.0,193.3 L272.5,193.7 L274.0,194.0 L275.5,194.4 L277.0,194.7 L278.5,195.0 L280.0,195.4 L281.5,195.7 L283.0,196.0 L284.5,196.3 L286.0,196.6 L287.5,196.9 L289.0,197.2 L290.5,197.5 L292.0,197.8 L293.5,198.1 L295.0,198.4 L296.5,198.8" fill="none" stroke="#ff0000" stroke-width="4.0" stroke-linecap="round" stroke-linejoin="round"/>
<path d="M52.0,46.4 L53.5,46.5 L55.0,46.7 L56.5,46.9 L58.0,47.1 L59.5,47.3 L61.0,47.4 L62.5,47.6 L64.0,47.8 L65.5,48.0 L67.0,48.1 L68.5,48.3 L70.0,48.5 L71.5,48.7 L73.0,48.9 L74.5,49.0 L76.0,49.2 L77.5,49.4 L79.0,49.6 L80.5,49.8 L82.0,50.0 L83.5,50.1 L85.0,50.3 L86.5,50.5 L88.0,50.7 L89.5,50.9 L91.0,51.1 L92.5,51.3 L94.0,51.5 L95.5,51.7 L97.0,52.0 L98.5,52.2 L100.0,52.4 L101.5,52.7 L103.0,52.9 L104.5,53.2 L106.0,53.5 L107.5,53.8 L109.0,54.1 L110.5,54.4 L112.0,54.8 L113.5,55.1 L115.0,55.5 L116.5,56.0 L118.0,56.5 L119.5,57.0 L121.0,57.5 L122.5,58.1 L124.0,58.7 L125.5,59.4 L127.0,60.2 L128.5,61.0 L130.0,61.8 L131.5,62.7 L133.0,63.7 L134.5,64.7 L136.0,65.8 L137.5,66.9 L139.0,68.1 L140.5,69.3 L142.0,70.6 L143.5,71.9 L145.0,73.3 L146.5,74.7 L148.0,76.1 L149.5,77.6 L151.0,79.1 L152.5,80.6 L154.0,82.2 L155.5,83.7 L157.0,85.3 L158.5,86.9 L160.0,88.6 L161.5,90.2 L163.0,91.9 L164.5,93.5 L166.0,95.2 L167.5,96.8 L169.0,98.5 L170.5,100.2 L172.0,101.9 L173.5,103.6 L175.0,105.3 L176.5,107.0 L178.0,108.7 L179.5,110.4 L181.0,112.1 L182.5,113.8 L184.0,115.5 L185.5,117.2 L187.0,119.0 L188.5,120.7 L190.0,122.4 L191.5,124.1 L193.0,125.8 L194.5,127.5 L196.0,129.2 L197.5,131.0 L199.0,132.7 L200.5,134.4 L202.0,136.1 L203.5,137.8 L205.0,139.5 L206.5,141.2 L208.0,142.9 L209.5,144.6 L211.0,146.3 L212.5,148.0 L214.0,149.7 L215.5,151.3 L217.0,153.0 L218.5,154.7 L220.0,156.3 L221.5,157.9 L223.0,159.6 L224.5,161.2 L226.0,162.8 L227.5,164.3 L229.0,165.9 L230.5,167.4 L232.0,168.8 L233.5,170.3 L235.0,171.7 L236.5,173.1 L238.0,174.4 L239.5,175.6 L241.0,176.9 L242.5,178.0 L244.0,179.1 L245.5,180.2 L247.0,181.1 L248.5,182.1 L250.0,182.9 L251.5,183.7 L253.0,184.5 L254.5,185.2 L256.0,185.8 L257.5,186.4 L259.0,186.9 L260.5,187.5 L262.0,187.9 L263.5,188.4 L265.0,188.8 L266.5,189.2 L268.0,189.6 L269.5,189.9 L271.0,190.2 L272.5,190.6 L274.0,190.9 L275.5,191.2 L277.0,191.4 L278.5,191.7 L280.0,192.0 L281.5,192.2 L283.0,192.5 L284.5,192.8 L286.0,193.0 L287.5,193.2 L289.0,193.5 L290.5,193.7 L292.0,194.0 L293.5,194.2 L295.0,194.4 L296.5,194.7" fill="none" stroke="#008000" stroke-width="4.6" stroke-linecap="round" stroke-linejoin="round"/>
<path d="M52.0,34.4 L53.5,34.4 L55.0,34.4 L56.5,34.4 L58.0,34.4 L59.5,34.4 L61.0,34.4 L62.5,34.4 L64.0,34.5 L65.5,34.5 L67.0,34.5 L68.5,34.5 L70.0,34.6 L71.5,34.6 L73.0,34.7 L74.5,34.7 L76.0,34.8 L77.5,34.9 L79.0,35.0 L80.5,35.1 L82.0,35.2 L83.5,35.3 L85.0,35.5 L86.5,35.6 L88.0,35.8 L89.5,36.0 L91.0,36.2 L92.5,36.4 L94.0,36.7 L95.5,37.0 L97.0,37.3 L98.5,37.7 L100.0,38.0 L101.5,38.5 L103.0,38.9 L104.5,39.4 L106.0,39.9 L107.5,40.5 L109.0,41.1 L110.5,41.7 L112.0,42.4 L113.5,43.1 L115.0,43.9 L116.5,44.7 L118.0,45.6 L119.5,46.5 L121.0,47.4 L122.5,48.5 L124.0,49.5 L125.5,50.6 L127.0,51.7 L128.5,52.9 L130.0,54.1 L131.5,55.4 L133.0,56.7 L134.5,58.0 L136.0,59.3 L137.5,60.7 L139.0,62.2 L140.5,63.6 L142.0,65.1 L143.5,66.6 L145.0,68.1 L146.5,69.7 L148.0,71.2 L149.5,72.8 L151.0,74.4 L152.5,76.0 L154.0,77.6 L155.5,79.3 L157.0,80.9 L158.5,82.6 L160.0,84.3 L161.5,86.0 L163.0,87.7 L164.5,89.4 L166.0,91.1 L167.5,92.8 L169.0,94.5 L170.5,96.2 L172.0,98.0 L173.5,99.7 L175.0,101.4 L176.5,103.2 L178.0,104.9 L179.5,106.7 L181.0,108.4 L182.5,110.2 L184.0,111.9 L185.5,113.7 L187.0,115.5 L188.5,117.2 L190.0,119.0 L191.5,120.7 L193.0,122.5 L194.5,124.3 L196.0,126.0 L197.5,127.8 L199.0,129.5 L200.5,131.3 L202.0,133.1 L203.5,134.8 L205.0,136.6 L206.5,138.3 L208.0,140.1 L209.5,141.8 L211.0,143.6 L212.5,145.3 L214.0,147.0 L215.5,148.8 L217.0,150.5 L218.5,152.2 L220.0,153.9 L221.5,155.6 L223.0,157.3 L224.5,159.0 L226.0,160.7 L227.5,162.3 L229.0,163.9 L230.5,165.5 L232.0,167.1 L233.5,168.7 L235.0,170.2 L236.5,171.7 L238.0,173.2 L239.5,174.6 L241.0,176.0 L242.5,177.4 L244.0,178.7 L245.5,180.0 L247.0,181.2 L248.5,182.4 L250.0,183.5 L251.5,184.6 L253.0,185.7 L254.5,186.7 L256.0,187.6 L257.5,188.5 L259.0,189.4 L260.5,190.2 L262.0,191.0 L263.5,191.7 L265.0,192.4 L266.5,193.1 L268.0,193.7 L269.5,194.4 L271.0,195.0 L272.5,195.5 L274.0,196.1 L275.5,196.7 L277.0,197.2 L278.5,197.7 L280.0,198.2 L281.5,198.7 L283.0,199.2 L284.5,199.7 L286.0,200.1 L287.5,200.6 L289.0,201.1 L290.5,201.5 L292.0,202.0 L293.5,202.4 L295.0,202.8 L296.5,203.3" fill="none" stroke="#ffc000" stroke-width="4.6" stroke-linecap="round" stroke-linejoin="round"/>
<path d="M52.0,8.2 L53.5,8.3 L55.0,8.4 L56.5,8.5 L58.0,8.6 L59.5,8.7 L61.0,8.8 L62.5,8.9 L64.0,9.0 L65.5,9.1 L67.0,9.3 L68.5,9.4 L70.0,9.5 L71.5,9.6 L73.0,9.7 L74.5,9.9 L76.0,10.0 L77.5,10.1 L79.0,10.3 L80.5,10.4 L82.0,10.6 L83.5,10.8 L85.0,11.0 L86.5,11.2 L88.0,11.4 L89.5,11.7 L91.0,12.0 L92.5,12.3 L94.0,12.6 L95.5,13.0 L97.0,13.4 L98.5,13.9 L100.0,14.4 L101.5,15.0 L103.0,15.6 L104.5,16.3 L106.0,17.1 L107.5,18.0 L109.0,18.9 L110.5,19.9 L112.0,21.0 L113.5,22.1 L115.0,23.3 L116.5,24.6 L118.0,25.9 L119.5,27.3 L121.0,28.8 L122.5,30.3 L124.0,31.8 L125.5,33.4 L127.0,35.0 L128.5,36.6 L130.0,38.3 L131.5,40.0 L133.0,41.7 L134.5,43.4 L136.0,45.1 L137.5,46.9 L139.0,48.6 L140.5,50.4 L142.0,52.1 L143.5,53.9 L145.0,55.7 L146.5,57.5 L148.0,59.3 L149.5,61.1 L151.0,62.8 L152.5,64.6 L154.0,66.4 L155.5,68.2 L157.0,70.0 L158.5,71.8 L160.0,73.6 L161.5,75.4 L163.0,77.2 L164.5,79.0 L166.0,80.8 L167.5,82.6 L169.0,84.4 L170.5,86.2 L172.0,88.0 L173.5,89.8 L175.0,91.6 L176.5,93.4 L178.0,95.2 L179.5,97.0 L181.0,98.8 L182.5,100.6 L184.0,102.4 L185.5,104.2 L187.0,106.0 L188.5,107.8 L190.0,109.6 L191.5,111.4 L193.0,113.2 L194.5,114.9 L196.0,116.7 L197.5,118.5 L199.0,120.3 L200.5,122.1 L202.0,123.9 L203.5,125.6 L205.0,127.4 L206.5,129.2 L208.0,130.9 L209.5,132.7 L211.0,134.4 L212.5,136.2 L214.0,137.9 L215.5,139.7 L217.0,141.4 L218.5,143.1 L220.0,144.9 L221.5,146.6 L223.0,148.3 L224.5,150.0 L226.0,151.6 L227.5,153.3 L229.0,155.0 L230.5,156.6 L232.0,158.3 L233.5,159.9 L235.0,161.5 L236.5,163.1 L238.0,164.6 L239.5,166.2 L241.0,167.7 L242.5,169.2 L244.0,170.7 L245.5,172.1 L247.0,173.6 L248.5,175.0 L250.0,176.3 L251.5,177.7 L253.0,178.9 L254.5,180.2 L256.0,181.4 L257.5,182.6 L259.0,183.8 L260.5,184.9 L262.0,185.9 L263.5,186.9 L265.0,187.9 L266.5,188.8 L268.0,189.7 L269.5,190.5 L271.0,191.2 L272.5,192.0 L274.0,192.6 L275.5,193.2 L277.0,193.8 L278.5,194.3 L280.0,194.8 L281.5,195.2 L283.0,195.6 L284.5,195.9 L286.0,196.2 L287.5,196.4 L289.0,196.6 L290.5,196.8 L292.0,196.9 L293.5,197.0 L295.0,197.1 L296.5,197.1" fill="none" stroke="#800000" stroke-width="3.5" stroke-linecap="round" stroke-linejoin="round"/>
<rect x="45.1" y="7.0" width="254.4" height="281.5" fill="none" stroke="#000" stroke-width="2.4"/>
<line x1="41.5" y1="7.0" x2="45.1" y2="7.0" stroke="#000" stroke-width="2.2"/>
<text transform="translate(38.5,12.3) scale(0.800,1)" text-anchor="end" font-size="16.0" font-weight="bold">3.5</text>
<line x1="41.5" y1="38.3" x2="45.1" y2="38.3" stroke="#000" stroke-width="2.2"/>
<text transform="translate(38.5,43.6) scale(0.800,1)" text-anchor="end" font-size="16.0" font-weight="bold">3.0</text>
<line x1="41.5" y1="69.6" x2="45.1" y2="69.6" stroke="#000" stroke-width="2.2"/>
<text transform="translate(38.5,74.9) scale(0.800,1)" text-anchor="end" font-size="16.0" font-weight="bold">2.5</text>
<line x1="41.5" y1="100.8" x2="45.1" y2="100.8" stroke="#000" stroke-width="2.2"/>
<text transform="translate(38.5,106.1) scale(0.800,1)" text-anchor="end" font-size="16.0" font-weight="bold">2.0</text>
<line x1="41.5" y1="132.1" x2="45.1" y2="132.1" stroke="#000" stroke-width="2.2"/>
<text transform="translate(38.5,137.4) scale(0.800,1)" text-anchor="end" font-size="16.0" font-weight="bold">1.5</text>
<line x1="41.5" y1="163.4" x2="45.1" y2="163.4" stroke="#000" stroke-width="2.2"/>
<text transform="translate(38.5,168.7) scale(0.800,1)" text-anchor="end" font-size="16.0" font-weight="bold">1.0</text>
<line x1="41.5" y1="194.7" x2="45.1" y2="194.7" stroke="#000" stroke-width="2.2"/>
<text transform="translate(38.5,200.0) scale(0.800,1)" text-anchor="end" font-size="16.0" font-weight="bold">0.5</text>
<line x1="41.5" y1="225.9" x2="45.1" y2="225.9" stroke="#000" stroke-width="2.2"/>
<text transform="translate(38.5,231.2) scale(0.800,1)" text-anchor="end" font-size="16.0" font-weight="bold">0.0</text>
<line x1="41.5" y1="257.2" x2="45.1" y2="257.2" stroke="#000" stroke-width="2.2"/>
<text transform="translate(38.5,262.5) scale(0.800,1)" text-anchor="end" font-size="16.0" font-weight="bold">-0.5</text>
<line x1="41.5" y1="288.5" x2="45.1" y2="288.5" stroke="#000" stroke-width="2.2"/>
<text transform="translate(38.5,293.8) scale(0.800,1)" text-anchor="end" font-size="16.0" font-weight="bold">-1.0</text>
<line x1="42.9" y1="22.6" x2="45.1" y2="22.6" stroke="#000" stroke-width="1.6"/>
<line x1="42.9" y1="53.9" x2="45.1" y2="53.9" stroke="#000" stroke-width="1.6"/>
<line x1="42.9" y1="85.2" x2="45.1" y2="85.2" stroke="#000" stroke-width="1.6"/>
<line x1="42.9" y1="116.5" x2="45.1" y2="116.5" stroke="#000" stroke-width="1.6"/>
<line x1="42.9" y1="147.8" x2="45.1" y2="147.8" stroke="#000" stroke-width="1.6"/>
<line x1="42.9" y1="179.0" x2="45.1" y2="179.0" stroke="#000" stroke-width="1.6"/>
<line x1="42.9" y1="210.3" x2="45.1" y2="210.3" stroke="#000" stroke-width="1.6"/>
<line x1="42.9" y1="241.6" x2="45.1" y2="241.6" stroke="#000" stroke-width="1.6"/>
<line x1="42.9" y1="272.9" x2="45.1" y2="272.9" stroke="#000" stroke-width="1.6"/>
<line x1="299.5" y1="7.0" x2="303.1" y2="7.0" stroke="#000" stroke-width="2.2"/>
<text transform="translate(305.5,12.3) scale(0.800,1)" text-anchor="start" font-size="16.0" font-weight="bold">60</text>
<line x1="299.5" y1="50.3" x2="303.1" y2="50.3" stroke="#000" stroke-width="2.2"/>
<text transform="translate(305.5,55.6) scale(0.800,1)" text-anchor="start" font-size="16.0" font-weight="bold">40</text>
<line x1="299.5" y1="93.6" x2="303.1" y2="93.6" stroke="#000" stroke-width="2.2"/>
<text transform="translate(305.5,98.9) scale(0.800,1)" text-anchor="start" font-size="16.0" font-weight="bold">20</text>
<line x1="299.5" y1="136.8" x2="303.1" y2="136.8" stroke="#000" stroke-width="2.2"/>
<text transform="translate(305.5,142.1) scale(0.800,1)" text-anchor="start" font-size="16.0" font-weight="bold">0</text>
<line x1="299.5" y1="180.1" x2="303.1" y2="180.1" stroke="#000" stroke-width="2.2"/>
<text transform="translate(305.5,185.4) scale(0.800,1)" text-anchor="start" font-size="16.0" font-weight="bold">-20</text>
<line x1="299.5" y1="223.4" x2="303.1" y2="223.4" stroke="#000" stroke-width="2.2"/>
<text transform="translate(305.5,228.7) scale(0.800,1)" text-anchor="start" font-size="16.0" font-weight="bold">-40</text>
<line x1="299.5" y1="266.7" x2="303.1" y2="266.7" stroke="#000" stroke-width="2.2"/>
<text transform="translate(305.5,272.0) scale(0.800,1)" text-anchor="start" font-size="16.0" font-weight="bold">-60</text>
<line x1="299.5" y1="28.6" x2="301.7" y2="28.6" stroke="#000" stroke-width="1.8"/>
<line x1="299.5" y1="71.9" x2="301.7" y2="71.9" stroke="#000" stroke-width="1.8"/>
<line x1="299.5" y1="115.2" x2="301.7" y2="115.2" stroke="#000" stroke-width="1.8"/>
<line x1="299.5" y1="158.5" x2="301.7" y2="158.5" stroke="#000" stroke-width="1.8"/>
<line x1="299.5" y1="201.8" x2="301.7" y2="201.8" stroke="#000" stroke-width="1.8"/>
<line x1="299.5" y1="245.0" x2="301.7" y2="245.0" stroke="#000" stroke-width="1.8"/>
<line x1="65.3" y1="288.5" x2="65.3" y2="292.5" stroke="#000" stroke-width="2.2"/>
<text transform="translate(65.3,308.5) scale(0.800,1)" text-anchor="middle" font-size="16.0" font-weight="bold">-1</text>
<line x1="104.2" y1="288.5" x2="104.2" y2="292.5" stroke="#000" stroke-width="2.2"/>
<text transform="translate(104.2,308.5) scale(0.800,1)" text-anchor="middle" font-size="16.0" font-weight="bold">0</text>
<line x1="143.1" y1="288.5" x2="143.1" y2="292.5" stroke="#000" stroke-width="2.2"/>
<text transform="translate(143.1,308.5) scale(0.800,1)" text-anchor="middle" font-size="16.0" font-weight="bold">1</text>
<line x1="182.0" y1="288.5" x2="182.0" y2="292.5" stroke="#000" stroke-width="2.2"/>
<text transform="translate(182.0,308.5) scale(0.800,1)" text-anchor="middle" font-size="16.0" font-weight="bold">2</text>
<line x1="220.9" y1="288.5" x2="220.9" y2="292.5" stroke="#000" stroke-width="2.2"/>
<text transform="translate(220.9,308.5) scale(0.800,1)" text-anchor="middle" font-size="16.0" font-weight="bold">3</text>
<line x1="259.8" y1="288.5" x2="259.8" y2="292.5" stroke="#000" stroke-width="2.2"/>
<text transform="translate(259.8,308.5) scale(0.800,1)" text-anchor="middle" font-size="16.0" font-weight="bold">4</text>
<line x1="298.7" y1="288.5" x2="298.7" y2="292.5" stroke="#000" stroke-width="2.2"/>
<text transform="translate(298.7,308.5) scale(0.800,1)" text-anchor="middle" font-size="16.0" font-weight="bold">5</text>
<line x1="84.8" y1="288.5" x2="84.8" y2="291.0" stroke="#000" stroke-width="1.8"/>
<line x1="123.7" y1="288.5" x2="123.7" y2="291.0" stroke="#000" stroke-width="1.8"/>
<line x1="162.6" y1="288.5" x2="162.6" y2="291.0" stroke="#000" stroke-width="1.8"/>
<line x1="201.4" y1="288.5" x2="201.4" y2="291.0" stroke="#000" stroke-width="1.8"/>
<line x1="240.4" y1="288.5" x2="240.4" y2="291.0" stroke="#000" stroke-width="1.8"/>
<line x1="279.2" y1="288.5" x2="279.2" y2="291.0" stroke="#000" stroke-width="1.8"/>
<path d="M399.4,133.4 L400.9,133.6 L402.4,133.9 L403.9,134.1 L405.4,134.3 L406.9,134.5 L408.4,134.8 L409.9,135.0 L411.4,135.2 L412.9,135.4 L414.4,135.7 L415.9,135.9 L417.4,136.1 L418.9,136.4 L420.4,136.6 L421.9,136.8 L423.4,137.1 L424.9,137.3 L426.4,137.6 L427.9,137.8 L429.4,138.1 L430.9,138.4 L432.4,138.6 L433.9,138.9 L435.4,139.2 L436.9,139.5 L438.4,139.8 L439.9,140.1 L441.4,140.4 L442.9,140.8 L444.4,141.1 L445.9,141.5 L447.4,141.9 L448.9,142.3 L450.4,142.8 L451.9,143.2 L453.4,143.7 L454.9,144.2 L456.4,144.8 L457.9,145.4 L459.4,146.1 L460.9,146.8 L462.4,147.5 L463.9,148.3 L465.4,149.2 L466.9,150.1 L468.4,151.1 L469.9,152.2 L471.4,153.4 L472.9,154.6 L474.4,155.9 L475.9,157.3 L477.4,158.8 L478.9,160.4 L480.4,162.1 L481.9,163.8 L483.4,165.7 L484.9,167.6 L486.4,169.7 L487.9,171.8 L489.4,174.0 L490.9,176.3 L492.4,178.6 L493.9,181.0 L495.4,183.5 L496.9,186.1 L498.4,188.7 L499.9,191.3 L501.4,194.0 L502.9,196.8 L504.4,199.5 L505.9,202.4 L507.4,205.2 L508.9,208.1 L510.4,211.0 L511.9,214.0 L513.4,216.9 L514.9,219.9 L516.4,222.8 L517.9,225.8 L519.4,228.8 L520.9,231.8 L522.4,234.7 L523.9,237.6 L525.4,240.4 L526.9,243.1 L528.4,245.7 L529.9,248.0 L531.4,250.0 L532.9,251.7 L534.4,252.9 L535.9,253.7 L537.4,254.1 L538.9,254.1 L540.4,253.7 L541.9,253.2 L543.4,252.4 L544.9,251.4 L546.4,250.3 L547.9,248.8 L549.4,246.8 L550.9,244.4 L552.4,241.5 L553.9,238.5 L555.4,235.4 L556.9,232.3 L558.4,229.2 L559.9,226.1 L561.4,222.9 L562.9,219.8 L564.4,216.7 L565.9,213.5 L567.4,210.4 L568.9,207.3 L570.4,204.2 L571.9,201.1 L573.4,198.1 L574.9,195.1 L576.4,192.1 L577.9,189.1 L579.4,186.2 L580.9,183.3 L582.4,180.5 L583.9,177.8 L585.4,175.2 L586.9,172.6 L588.4,170.2 L589.9,168.0 L591.4,165.8 L592.9,163.8 L594.4,162.0 L595.9,160.3 L597.4,158.8 L598.9,157.3 L600.4,156.0 L601.9,154.8 L603.4,153.7 L604.9,152.6 L606.4,151.7 L607.9,150.7 L609.4,149.8 L610.9,149.0 L612.4,148.2 L613.9,147.4 L615.4,146.6 L616.9,145.8 L618.4,145.1 L619.9,144.3 L621.4,143.6 L622.9,142.9 L624.4,142.1 L625.9,141.4 L627.4,140.7 L628.9,140.1 L630.4,139.5 L631.9,139.1 L633.4,138.8 L634.9,138.6 L636.4,138.4 L637.9,138.3 L639.4,138.1 L640.9,138.0 L642.4,137.9 L643.9,137.7 L645.4,137.6 L646.9,137.4 L648.4,137.3" fill="none" stroke="#0000ff" stroke-width="4.0" stroke-linecap="round" stroke-linejoin="round"/>
<path d="M399.4,133.0 L400.9,133.1 L402.4,133.3 L403.9,133.6 L405.4,133.8 L406.9,134.1 L408.4,134.4 L409.9,134.8 L411.4,135.2 L412.9,135.7 L414.4,136.1 L415.9,136.7 L417.4,137.2 L418.9,137.9 L420.4,138.5 L421.9,139.2 L423.4,140.0 L424.9,140.9 L426.4,141.8 L427.9,142.7 L429.4,143.7 L430.9,144.8 L432.4,146.0 L433.9,147.2 L435.4,148.5 L436.9,149.9 L438.4,151.3 L439.9,152.9 L441.4,154.5 L442.9,156.2 L444.4,157.9 L445.9,159.8 L447.4,161.7 L448.9,163.7 L450.4,165.8 L451.9,168.0 L453.4,170.2 L454.9,172.5 L456.4,174.9 L457.9,177.4 L459.4,180.0 L460.9,182.6 L462.4,185.3 L463.9,188.1 L465.4,191.0 L466.9,193.9 L468.4,196.8 L469.9,199.8 L471.4,202.9 L472.9,206.0 L474.4,209.1 L475.9,212.3 L477.4,215.4 L478.9,218.6 L480.4,221.7 L481.9,224.9 L483.4,228.0 L484.9,231.0 L486.4,233.9 L487.9,236.7 L489.4,239.4 L490.9,242.0 L492.4,244.4 L493.9,246.6 L495.4,248.6 L496.9,250.4 L498.4,252.0 L499.9,253.4 L501.4,254.7 L502.9,255.7 L504.4,256.6 L505.9,257.4 L507.4,258.1 L508.9,258.6 L510.4,259.1 L511.9,259.5 L513.4,259.9 L514.9,260.2 L516.4,260.4 L517.9,260.7 L519.4,260.9 L520.9,261.1 L522.4,261.3 L523.9,261.5 L525.4,261.7 L526.9,261.9 L528.4,262.0 L529.9,262.2 L531.4,262.4 L532.9,262.5 L534.4,262.7 L535.9,262.8 L537.4,263.0 L538.9,263.1 L540.4,263.3 L541.9,263.4 L543.4,263.5 L544.9,263.6 L546.4,263.7 L547.9,263.7 L549.4,263.8 L550.9,263.8 L552.4,263.8 L553.9,263.7 L555.4,263.7 L556.9,263.5 L558.4,263.3 L559.9,263.1 L561.4,262.7 L562.9,262.3 L564.4,261.8 L565.9,261.2 L567.4,260.5 L568.9,259.6 L570.4,258.6 L571.9,257.4 L573.4,256.0 L574.9,254.4 L576.4,252.6 L577.9,250.6 L579.4,248.4 L580.9,245.9 L582.4,243.1 L583.9,240.0 L585.4,236.7 L586.9,233.0 L588.4,229.1 L589.9,224.9 L591.4,220.5 L592.9,216.0 L594.4,211.4 L595.9,207.2 L597.4,203.4" fill="none" stroke="#ff00ff" stroke-width="4.0" stroke-linecap="round" stroke-linejoin="round"/>
<path d="M598.0 202.1h0M599.8 198.3h0M601.6 194.8h0M603.4 191.2h0M605.2 187.5h0M607.0 183.7h0M608.8 179.9h0M610.6 176.0h0M612.4 172.0h0M614.2 168.1h0M616.0 164.2h0M617.8 160.3h0M619.6 156.5h0M621.4 152.8h0M623.2 149.1h0M625.0 145.4h0M626.8 141.9h0M628.6 138.4h0M630.4 134.9h0M632.2 131.5h0M634.0 128.1h0M635.8 124.7h0M637.6 121.4h0M639.4 118.1h0M641.2 114.8h0" stroke="#ff00ff" stroke-width="4.2" stroke-linecap="round" fill="none"/>
<path d="M399.4,146.9 L400.9,147.6 L402.4,148.3 L403.9,149.0 L405.4,149.7 L406.9,150.4 L408.4,151.1 L409.9,151.9 L411.4,152.6 L412.9,153.3 L414.4,154.0 L415.9,154.7 L417.4,155.5 L418.9,156.2 L420.4,157.0 L421.9,157.7 L423.4,158.5 L424.9,159.3 L426.4,160.1 L427.9,160.9 L429.4,161.7 L430.9,162.6 L432.4,163.5 L433.9,164.4 L435.4,165.4 L436.9,166.4 L438.4,167.5 L439.9,168.6 L441.4,169.8 L442.9,171.0 L444.4,172.4 L445.9,173.8 L447.4,175.3 L448.9,176.9 L450.4,178.7 L451.9,180.5 L453.4,182.4 L454.9,184.5 L456.4,186.6 L457.9,188.9 L459.4,191.3 L460.9,193.7 L462.4,196.2 L463.9,198.9 L465.4,201.5 L466.9,204.3 L468.4,207.1 L469.9,209.9 L471.4,212.8 L472.9,215.8 L474.4,218.7 L475.9,221.7 L477.4,224.7 L478.9,227.7 L480.4,230.6 L481.9,233.5 L483.4,235.9 L484.9,237.9 L486.4,239.2 L487.9,240.0 L489.4,240.6 L490.9,241.0 L492.4,241.5 L493.9,241.9 L495.4,242.3 L496.9,242.7 L498.4,243.0 L499.9,243.4 L501.4,243.8 L502.9,244.2 L504.4,244.5 L505.9,244.8 L507.4,245.2 L508.9,245.4 L510.4,245.7 L511.9,246.0 L513.4,246.2 L514.9,246.3 L516.4,246.5 L517.9,246.6 L519.4,246.7 L520.9,246.7 L522.4,246.7 L523.9,246.6 L525.4,246.5 L526.9,246.4 L528.4,246.3 L529.9,246.1 L531.4,245.9 L532.9,245.7 L534.4,245.5 L535.9,245.2 L537.4,245.0 L538.9,244.7 L540.4,244.4 L541.9,244.1 L543.4,243.8 L544.9,243.5 L546.4,243.2 L547.9,242.9 L549.4,242.5 L550.9,242.2 L552.4,241.8 L553.9,241.5 L555.4,241.1 L556.9,240.8 L558.4,240.4 L559.9,240.0 L561.4,239.6 L562.9,239.1 L564.4,238.6 L565.9,238.2 L567.4,237.6 L568.9,237.0 L570.4,236.4 L571.9,235.7 L573.4,235.0 L574.9,234.1 L576.4,233.2 L577.9,232.1 L579.4,231.0 L580.9,229.7 L582.4,228.3 L583.9,226.8 L585.4,225.1 L586.9,223.3 L588.4,221.4 L589.9,219.3 L591.4,217.1 L592.9,214.9 L594.4,212.5 L595.9,210.0 L597.4,207.5 L598.9,204.9 L600.4,202.2 L601.9,199.5 L603.4,196.8" fill="none" stroke="#ff0000" stroke-width="4.0" stroke-linecap="round" stroke-linejoin="round"/>
<path d="M604.0 195.7h0M605.8 192.3h0M607.6 188.9h0M609.4 185.5h0M611.2 182.1h0M613.0 178.6h0M614.8 175.2h0M616.6 171.7h0M618.4 168.2h0M620.2 164.7h0M622.0 161.2h0M623.8 157.7h0M625.6 154.1h0M627.4 150.5h0M629.2 146.7h0M631.0 142.6h0M632.8 138.4h0M634.6 134.2h0M636.4 129.9h0M638.2 125.7h0M640.0 121.4h0M641.8 117.1h0M643.6 112.8h0" stroke="#ff0000" stroke-width="4.2" stroke-linecap="round" fill="none"/>
<path d="M399.4,136.2 L400.9,136.6 L402.4,137.0 L403.9,137.4 L405.4,137.8 L406.9,138.2 L408.4,138.7 L409.9,139.2 L411.4,139.7 L412.9,140.3 L414.4,140.9 L415.9,141.5 L417.4,142.2 L418.9,142.9 L420.4,143.6 L421.9,144.4 L423.4,145.2 L424.9,146.1 L426.4,147.0 L427.9,148.0 L429.4,149.0 L430.9,150.1 L432.4,151.3 L433.9,152.5 L435.4,153.8 L436.9,155.2 L438.4,156.7 L439.9,158.2 L441.4,159.8 L442.9,161.5 L444.4,163.3 L445.9,165.2 L447.4,167.2 L448.9,169.3 L450.4,171.4 L451.9,173.7 L453.4,176.1 L454.9,178.5 L456.4,181.1 L457.9,183.8 L459.4,186.5 L460.9,189.4 L462.4,192.4 L463.9,195.4 L465.4,198.6 L466.9,201.8 L468.4,205.1 L469.9,208.5 L471.4,212.0 L472.9,215.6 L474.4,219.3 L475.9,223.0 L477.4,226.7 L478.9,230.4 L480.4,234.0 L481.9,237.2 L483.4,239.8 L484.9,241.8 L486.4,243.4 L487.9,244.7 L489.4,246.0 L490.9,247.3 L492.4,248.6 L493.9,249.8 L495.4,251.1 L496.9,252.4 L498.4,253.7 L499.9,254.9 L501.4,256.1 L502.9,257.4 L504.4,258.6 L505.9,259.7 L507.4,260.8 L508.9,261.9 L510.4,263.0 L511.9,264.0 L513.4,264.9 L514.9,265.8 L516.4,266.7 L517.9,267.5 L519.4,268.2 L520.9,268.8 L522.4,269.4 L523.9,270.0 L525.4,270.4 L526.9,270.8 L528.4,271.1 L529.9,271.4 L531.4,271.5 L532.9,271.6 L534.4,271.6 L535.9,271.5 L537.4,271.4 L538.9,271.1 L540.4,270.8 L541.9,270.4 L543.4,269.9 L544.9,269.4 L546.4,268.7 L547.9,268.0 L549.4,267.2 L550.9,266.3 L552.4,265.3 L553.9,264.2 L555.4,263.1 L556.9,261.9 L558.4,260.6 L559.9,259.2 L561.4,257.8 L562.9,256.3 L564.4,254.7 L565.9,253.1 L567.4,251.3 L568.9,249.5 L570.4,247.7 L571.9,245.8 L573.4,243.8 L574.9,241.8 L576.4,239.7 L577.9,237.5 L579.4,235.3 L580.9,233.0 L582.4,230.7 L583.9,228.3 L585.4,225.9 L586.9,223.4 L588.4,220.9 L589.9,218.4 L591.4,215.8 L592.9,213.2 L594.4,210.5 L595.9,207.8 L597.4,205.0 L598.9,202.3 L600.4,199.5 L601.9,196.7 L603.4,193.8" fill="none" stroke="#008000" stroke-width="4.0" stroke-linecap="round" stroke-linejoin="round"/>
<path d="M604.0 192.7h0M605.8 189.2h0M607.6 185.8h0M609.4 182.3h0M611.2 178.8h0M613.0 175.4h0M614.8 171.9h0M616.6 168.5h0M618.4 165.1h0M620.2 161.8h0M622.0 158.4h0M623.8 154.9h0M625.6 151.1h0M627.4 146.8h0M629.2 142.4h0M631.0 138.0h0M632.8 133.6h0M634.6 129.5h0M636.4 125.4h0M638.2 121.6h0M640.0 117.9h0M641.8 114.3h0" stroke="#008000" stroke-width="4.2" stroke-linecap="round" fill="none"/>
<path d="M399.4,156.7 L400.9,157.7 L402.4,158.7 L403.9,159.7 L405.4,160.7 L406.9,161.7 L408.4,162.7 L409.9,163.7 L411.4,164.6 L412.9,165.6 L414.4,166.6 L415.9,167.5 L417.4,168.5 L418.9,169.5 L420.4,170.6 L421.9,171.7 L423.4,172.9 L424.9,174.1 L426.4,175.5 L427.9,176.9 L429.4,178.5 L430.9,180.2 L432.4,182.0 L433.9,183.9 L435.4,185.8 L436.9,187.9 L438.4,190.0 L439.9,192.1 L441.4,194.3 L442.9,196.4 L444.4,198.5 L445.9,200.6 L447.4,202.6 L448.9,204.6 L450.4,206.5 L451.9,208.4 L453.4,210.1 L454.9,211.8 L456.4,213.5 L457.9,215.0 L459.4,216.5 L460.9,217.9 L462.4,219.2 L463.9,220.5 L465.4,221.6 L466.9,222.8 L468.4,223.8 L469.9,224.8 L471.4,225.8 L472.9,226.7 L474.4,227.5 L475.9,228.3 L477.4,229.1 L478.9,229.8 L480.4,230.5 L481.9,231.1 L483.4,231.7 L484.9,232.3 L486.4,232.9 L487.9,233.4 L489.4,233.9 L490.9,234.4 L492.4,234.8 L493.9,235.2 L495.4,235.7 L496.9,236.0 L498.4,236.4 L499.9,236.8 L501.4,237.1 L502.9,237.5 L504.4,237.8 L505.9,238.1 L507.4,238.4 L508.9,238.7 L510.4,238.9 L511.9,239.2 L513.4,239.4 L514.9,239.6 L516.4,239.9 L517.9,240.1 L519.4,240.2 L520.9,240.4 L522.4,240.6 L523.9,240.7 L525.4,240.8 L526.9,240.9 L528.4,241.0 L529.9,241.1 L531.4,241.2 L532.9,241.2 L534.4,241.2 L535.9,241.2 L537.4,241.2 L538.9,241.1 L540.4,241.0 L541.9,240.9 L543.4,240.8 L544.9,240.6 L546.4,240.4 L547.9,240.1 L549.4,239.9 L550.9,239.5 L552.4,239.2 L553.9,238.8 L555.4,238.3 L556.9,237.8 L558.4,237.3 L559.9,236.7 L561.4,236.1 L562.9,235.4 L564.4,234.6 L565.9,233.8 L567.4,233.0 L568.9,232.0 L570.4,231.0 L571.9,230.0 L573.4,228.9 L574.9,227.7 L576.4,226.5 L577.9,225.2 L579.4,223.8 L580.9,222.4 L582.4,220.9 L583.9,219.4 L585.4,217.8 L586.9,216.1 L588.4,214.5 L589.9,212.7 L591.4,211.0 L592.9,209.2 L594.4,207.4 L595.9,205.5 L597.4,203.7 L598.9,201.8 L600.4,199.9 L601.9,197.9 L603.4,195.9 L604.9,193.9 L606.4,191.8 L607.9,189.7" fill="none" stroke="#ffc000" stroke-width="4.2" stroke-linecap="round" stroke-linejoin="round"/>
<path d="M608.0 189.5h0M609.8 186.8h0M611.6 183.9h0M613.4 180.9h0M615.2 177.8h0M617.0 174.5h0M618.8 171.2h0M620.6 167.9h0M622.4 164.6h0M624.2 161.3h0M626.0 158.1h0M627.8 154.9h0M629.6 151.9h0M631.4 148.8h0M633.2 145.8h0M635.0 142.9h0M636.8 140.1h0M638.6 137.3h0M640.4 134.5h0M642.2 131.8h0M644.0 129.1h0" stroke="#ffc000" stroke-width="4.2" stroke-linecap="round" fill="none"/>
<path d="M404.7,150.5 L406.2,151.4 L407.7,152.3 L409.2,153.1 L410.7,154.0 L412.2,154.9 L413.7,155.9 L415.2,156.8 L416.7,157.8 L418.2,158.9 L419.7,160.0 L421.2,161.3 L422.7,162.7 L424.2,164.2 L425.7,165.8 L427.2,167.5 L428.7,169.3 L430.2,171.2 L431.7,173.1 L433.2,175.2 L434.7,177.3 L436.2,179.6 L437.7,181.9 L439.2,184.4 L440.7,187.0 L442.2,189.7 L443.7,192.4 L445.2,195.1 L446.7,197.8 L448.2,200.5 L449.7,203.1 L451.2,205.6 L452.7,208.1 L454.2,210.4 L455.7,212.7 L457.2,214.9 L458.7,217.1 L460.2,219.2 L461.7,221.4 L463.2,223.6 L464.7,225.8 L466.2,228.1 L467.7,230.3 L469.2,232.5 L470.7,234.7 L472.2,236.8 L473.7,238.8 L475.2,240.6 L476.7,242.0 L478.2,243.0 L479.7,243.8 L481.2,244.4 L482.7,244.9 L484.2,245.3 L485.7,245.6 L487.2,245.8 L488.7,246.0 L490.2,246.1 L491.7,246.2 L493.2,246.3 L494.7,246.3 L496.2,246.2 L497.7,246.0 L499.2,245.6 L500.7,245.0 L502.2,244.4 L503.7,243.8 L505.2,243.3 L506.7,242.8 L508.2,242.4 L509.7,242.0 L511.2,241.8 L512.7,241.4 L514.2,240.7 L515.7,239.6 L517.2,238.4 L518.7,237.1 L520.2,235.9 L521.7,234.7 L523.2,233.5 L524.7,232.4 L526.2,231.3 L527.7,230.3 L529.2,229.3 L530.7,228.3 L532.2,227.4 L533.7,226.6 L535.2,225.8 L536.7,225.2 L538.2,224.7 L539.7,224.5 L541.2,224.2 L542.7,223.9 L544.2,223.6 L545.7,223.3 L547.2,223.0 L548.7,222.6 L550.2,222.3 L551.7,222.0 L553.2,221.7 L554.7,221.6 L556.2,221.4 L557.7,221.3 L559.2,221.1 L560.7,220.9 L562.2,220.8 L563.7,220.6 L565.2,220.5 L566.7,220.3 L568.2,220.2 L569.7,220.0 L571.2,219.5 L572.7,218.9 L574.2,218.3 L575.7,217.7 L577.2,217.1 L578.7,216.5 L580.2,215.9 L581.7,215.3 L583.2,214.7 L584.7,214.1 L586.2,213.4 L587.7,212.5 L589.2,211.3 L590.7,210.1 L592.2,208.9 L593.7,207.6 L595.2,206.4 L596.7,205.2 L598.2,204.0 L599.7,202.8 L601.2,201.6 L602.7,200.4 L604.2,199.0 L605.7,197.6 L607.2,196.1 L608.7,194.6 L610.0,193.3" fill="none" stroke="#ffc000" stroke-width="4.0" stroke-linecap="round" stroke-linejoin="round"/>
<path d="M399.4,140.7 L400.9,141.0 L402.4,141.4 L403.9,141.8 L405.4,142.2 L406.9,142.7 L408.4,143.2 L409.9,143.8 L411.4,144.4 L412.9,145.1 L414.4,145.8 L415.9,146.6 L417.4,147.5 L418.9,148.4 L420.4,149.4 L421.9,150.4 L423.4,151.6 L424.9,152.8 L426.4,154.1 L427.9,155.4 L429.4,156.9 L430.9,158.4 L432.4,160.0 L433.9,161.7 L435.4,163.5 L436.9,165.4 L438.4,167.3 L439.9,169.4 L441.4,171.5 L442.9,173.8 L444.4,176.1 L445.9,178.5 L447.4,181.0 L448.9,183.6 L450.4,186.3 L451.9,189.0 L453.4,191.8 L454.9,194.7 L456.4,197.7 L457.9,200.6 L459.4,203.7 L460.9,206.8 L462.4,209.9 L463.9,213.0 L465.4,216.1 L466.9,219.3 L468.4,222.4 L469.9,225.4 L471.4,228.5 L472.9,231.5 L474.4,234.4 L475.9,237.2 L477.4,239.9 L478.9,242.5 L480.4,245.1 L481.9,247.4 L483.4,249.7 L484.9,251.8 L486.4,253.8 L487.9,255.7 L489.4,257.4 L490.9,259.0 L492.4,260.5 L493.9,261.9 L495.4,263.2 L496.9,264.3 L498.4,265.4 L499.9,266.4 L501.4,267.3 L502.9,268.1 L504.4,268.9 L505.9,269.6 L507.4,270.3 L508.9,270.9 L510.4,271.5 L511.9,272.1 L513.4,272.6 L514.9,273.1 L516.4,273.6 L517.9,274.1 L519.4,274.5 L520.9,274.9 L522.4,275.3 L523.9,275.7 L525.4,276.0 L526.9,276.4 L528.4,276.7 L529.9,277.0 L531.4,277.2 L532.9,277.4 L534.4,277.6 L535.9,277.8 L537.4,277.9 L538.9,278.0 L540.4,278.0 L541.9,278.0 L543.4,278.0 L544.9,277.9 L546.4,277.7 L547.9,277.5 L549.4,277.2 L550.9,276.8 L552.4,276.4 L553.9,275.8 L555.4,275.2 L556.9,274.5 L558.4,273.7 L559.9,272.8 L561.4,271.8 L562.9,270.8 L564.4,269.6 L565.9,268.3 L567.4,266.9 L568.9,265.4 L570.4,263.8 L571.9,262.2 L573.4,260.4 L574.9,258.5 L576.4,256.5 L577.9,254.5 L579.4,252.3 L580.9,250.1 L582.4,247.8 L583.9,245.4 L585.4,243.0 L586.9,240.5 L588.4,237.9 L589.9,235.3 L591.4,232.6 L592.9,229.9 L594.4,227.1 L595.9,224.3 L597.4,221.5 L598.9,218.6 L600.4,215.7 L601.9,212.7 L603.4,209.7 L604.9,206.7 L606.4,203.7 L607.9,200.6 L609.4,197.5" fill="none" stroke="#800000" stroke-width="4.0" stroke-linecap="round" stroke-linejoin="round"/>
<path d="M610.0 196.2h0M611.8 192.3h0M613.6 188.3h0M615.4 184.1h0M617.2 179.7h0M619.0 175.0h0M620.8 170.1h0M622.6 165.5h0M624.4 161.5h0M626.2 158.3h0M628.0 155.4h0M629.8 152.3h0M631.6 149.1h0M633.4 145.7h0M635.2 142.2h0M637.0 138.6h0M638.8 135.0h0M640.6 131.4h0M642.4 127.7h0" stroke="#800000" stroke-width="4.2" stroke-linecap="round" fill="none"/>
<path d="M399.0,138.0 L400.5,138.7 L402.0,139.4 L403.5,140.0 L405.0,140.7 L406.5,141.4 L408.0,142.1 L409.5,142.7 L411.0,143.4 L412.5,144.1 L414.0,144.8 L415.5,145.5 L417.0,146.1 L418.5,146.8 L420.0,147.4 L421.5,148.0 L423.0,148.4 L424.5,148.5 L426.0,148.7 L427.5,149.5 L429.0,150.9 L430.5,152.6 L432.0,154.3 L433.5,156.0 L435.0,157.8 L436.5,159.5 L438.0,161.2 L439.5,162.9 L441.0,164.7 L442.5,166.4 L444.0,168.1 L445.5,169.9 L447.0,171.6 L448.5,173.5 L450.0,175.7 L451.5,178.2 L453.0,181.1 L454.5,184.0 L456.0,187.0 L457.5,190.0 L459.0,193.0 L460.5,196.0 L462.0,199.0 L463.5,202.0 L465.0,205.0 L466.5,208.0 L468.0,210.9 L469.5,213.7 L471.0,216.3 L472.5,218.7 L474.0,221.0 L475.5,223.2 L477.0,225.5 L478.5,227.7 L480.0,230.0 L481.5,232.2 L483.0,234.5 L484.5,236.7 L486.0,239.0 L487.5,241.2 L489.0,243.2 L490.5,245.0 L492.0,246.6 L493.5,247.9 L495.0,249.2 L496.5,250.5 L498.0,251.8 L499.5,253.1 L501.0,254.3 L502.5,255.6 L504.0,256.9 L505.5,258.1 L507.0,259.4 L508.5,260.6 L510.0,261.6 L511.5,262.3 L513.0,262.8 L514.5,263.3 L516.0,263.8 L517.5,264.2 L519.0,264.7 L520.5,265.1 L522.0,265.6 L523.5,266.0 L525.0,266.5 L526.5,266.9 L528.0,267.3 L529.5,267.6 L531.0,267.7 L532.5,267.7 L534.0,267.6 L535.5,267.4 L537.0,267.3 L538.5,267.1 L540.0,267.0 L541.5,266.8 L543.0,266.7 L544.5,266.5 L546.0,266.4 L547.5,266.2 L549.0,265.9 L550.5,265.5 L552.0,264.8 L553.5,264.0 L555.0,263.2 L556.5,262.4 L558.0,261.6 L559.5,260.8 L561.0,259.9 L562.5,259.1 L564.0,258.3 L565.5,257.4 L567.0,256.6 L568.5,255.7 L570.0,254.5 L571.5,253.1 L573.0,251.5 L574.5,249.8 L576.0,248.0 L577.5,246.3 L579.0,244.5 L580.5,242.8 L582.0,241.0 L583.5,239.3 L585.0,237.5 L586.5,235.7 L588.0,233.9 L589.5,231.9 L591.0,229.7 L592.5,227.4 L594.0,224.9 L595.5,222.4 L597.0,219.8 L598.5,217.2 L600.0,214.6 L601.5,211.9 L603.0,209.3 L604.5,206.6 L606.0,203.9 L607.5,201.3 L609.0,198.6 L610.5,196.0 L612.0,193.4 L613.5,190.9 L615.0,188.5 L616.5,186.3 L618.0,184.2 L619.5,182.2 L621.0,180.2 L622.5,178.2 L624.0,176.3 L625.5,174.4 L627.0,172.4 L628.5,170.5 L630.0,168.7 L631.5,166.8 L633.0,164.9 L634.5,163.0 L636.0,161.2 L637.5,159.3 L639.0,157.4 L640.5,155.6 L642.0,153.7 L643.5,151.9 L645.0,150.0" fill="none" stroke="#800000" stroke-width="1.8" stroke-linecap="round" stroke-linejoin="round"/>
<path d="M612.0,172.0 L613.5,170.3 L615.0,168.7 L616.5,167.1 L618.0,165.5 L619.5,163.9 L621.0,162.5 L622.5,161.1 L624.0,159.9 L625.5,158.8 L627.0,157.7 L628.5,156.6 L630.0,155.6 L631.5,154.5 L633.0,153.5 L634.5,152.6 L636.0,151.7 L637.5,150.9 L639.0,150.2 L640.5,149.5 L642.0,148.8 L643.5,148.1 L645.0,147.4 L646.5,146.8 L647.3,146.4" fill="none" stroke="#008000" stroke-width="3.2" stroke-linecap="round" stroke-linejoin="round"/>
<path d="M612.0,178.0 L613.5,176.1 L615.0,174.2 L616.5,172.3 L618.0,170.5 L619.5,168.7 L621.0,167.1 L622.5,165.7 L624.0,164.5 L625.5,163.4 L627.0,162.3 L628.5,161.3 L630.0,160.3 L631.5,159.3 L633.0,158.4 L634.5,157.4 L636.0,156.6 L637.5,155.7 L639.0,154.9 L640.5,154.1 L642.0,153.4 L643.5,152.6 L645.0,151.8 L646.5,151.0 L647.3,150.6" fill="none" stroke="#800000" stroke-width="3.2" stroke-linecap="round" stroke-linejoin="round"/>
<path d="M615.0,178.0 L616.5,176.4 L618.0,174.7 L619.5,173.1 L621.0,171.5 L622.5,170.0 L624.0,168.4 L625.5,167.0 L627.0,165.7 L628.5,164.4 L630.0,163.2 L631.5,162.1 L633.0,161.0 L634.5,160.0 L636.0,159.0 L637.5,158.1 L639.0,157.2 L640.5,156.4 L642.0,155.6 L643.5,154.9 L645.0,154.1 L646.5,153.4 L647.3,153.0" fill="none" stroke="#ff00ff" stroke-width="3.0" stroke-linecap="round" stroke-linejoin="round"/>
<path d="M615.0,185.0 L616.5,182.7 L618.0,180.3 L619.5,178.0 L621.0,175.8 L622.5,173.6 L624.0,171.6 L625.5,169.7 L627.0,168.1 L628.5,166.8 L630.0,165.6 L631.5,164.5 L633.0,163.6 L634.5,162.6 L636.0,161.8 L637.5,160.9 L639.0,160.1 L640.5,159.3 L642.0,158.5 L643.5,157.8 L645.0,157.0 L646.5,156.3 L647.3,155.9" fill="none" stroke="#ffc000" stroke-width="3.2" stroke-linecap="round" stroke-linejoin="round"/>
<path d="M399.6,101.3 L401.1,101.3 L402.6,101.3 L404.1,101.3 L405.6,101.2 L407.1,101.2 L408.6,101.2 L410.1,101.2 L411.6,101.2 L413.1,101.3 L414.6,101.3 L416.1,101.3 L417.6,101.3 L419.1,101.3 L420.6,101.3 L422.1,101.3 L423.6,101.3 L425.1,101.3 L426.6,101.3 L428.1,101.3 L429.6,101.3 L431.1,101.3 L432.6,101.3 L434.1,101.4 L435.6,101.4 L437.1,101.4 L438.6,101.4 L440.1,101.4 L441.6,101.5 L443.1,101.5 L444.6,101.5 L446.1,101.5 L447.6,101.6 L449.1,101.6 L450.6,101.7 L452.1,101.7 L453.6,101.8 L455.1,101.8 L456.6,101.9 L458.1,101.9 L459.6,102.0 L461.1,102.1 L462.6,102.2 L464.1,102.3 L465.6,102.4 L467.1,102.5 L468.6,102.6 L470.1,102.7 L471.6,102.8 L473.1,103.0 L474.6,103.2 L476.1,103.3 L477.6,103.5 L479.1,103.7 L480.6,103.9 L482.1,104.1 L483.6,104.4 L485.1,104.6 L486.6,104.9 L488.1,105.2 L489.6,105.5 L491.1,105.9 L492.6,106.3 L494.1,106.7 L495.6,107.1 L497.1,107.5 L498.6,108.0 L500.1,108.5 L501.6,109.1 L503.1,109.6 L504.6,110.2 L506.1,110.9 L507.6,111.6 L509.1,112.3 L510.6,113.0 L512.1,113.8 L513.6,114.7 L515.1,115.6 L516.6,116.5 L518.1,117.5 L519.6,118.5 L521.1,119.5 L522.6,120.6 L524.1,121.8 L525.6,123.0 L527.1,124.2 L528.6,125.5 L530.1,126.8 L531.6,128.2 L533.1,129.6 L534.6,131.0 L536.1,132.5 L537.6,134.0 L539.1,135.6 L540.6,137.2 L542.1,138.8 L543.6,140.5 L545.1,142.2 L546.6,143.9 L548.1,145.7 L549.6,147.5 L551.1,149.3 L552.6,151.1 L554.1,152.9 L555.6,154.7 L557.1,156.5 L558.6,158.3 L560.1,160.1 L561.6,161.9 L563.1,163.6 L564.6,165.3 L566.1,166.9 L567.6,168.4 L569.1,169.8 L570.6,171.1 L572.1,172.2 L573.6,173.3 L575.1,174.2 L576.6,175.0 L578.1,175.7 L579.6,176.3 L581.1,176.8 L582.6,177.2 L584.1,177.5 L585.6,177.8 L587.1,178.1 L588.6,178.3 L590.1,178.5 L591.6,178.7 L593.1,178.8 L594.6,179.0 L596.1,179.1 L597.6,179.3 L599.1,179.4 L600.6,179.5 L602.1,179.7 L603.6,179.8 L605.1,179.9 L606.6,180.0 L608.1,180.2 L609.6,180.3 L611.1,180.4 L612.6,180.6 L614.1,180.7 L615.6,180.8 L617.1,180.9 L618.6,181.1 L620.1,181.2 L621.6,181.4 L623.1,181.5 L624.6,181.6 L626.1,181.8 L627.6,181.9 L629.1,182.1 L630.6,182.2 L632.1,182.3 L633.6,182.5 L635.1,182.6 L636.6,182.8 L638.1,182.9 L639.6,183.1 L641.1,183.2 L642.6,183.3 L644.1,183.5 L645.6,183.6 L647.1,183.8" fill="none" stroke="#0000ff" stroke-width="4.0" stroke-linecap="round" stroke-linejoin="round"/>
<path d="M399.0,52.0 L400.5,51.9 L402.0,51.8 L403.5,51.7 L405.0,51.6 L406.5,51.6 L408.0,51.5 L409.5,51.5 L411.0,51.4 L412.5,51.4 L414.0,51.4 L415.5,51.4 L417.0,51.4 L418.5,51.5 L420.0,51.5 L421.5,51.6 L423.0,51.7 L424.5,51.8 L426.0,51.9 L427.5,52.1 L429.0,52.2 L430.5,52.4 L432.0,52.6 L433.5,52.8 L435.0,53.1 L436.5,53.4 L438.0,53.6 L439.5,54.0 L441.0,54.3 L442.5,54.6 L444.0,55.0 L445.5,55.4 L447.0,55.9 L448.5,56.3 L450.0,56.8 L451.5,57.3 L453.0,57.8 L454.5,58.4 L456.0,59.0 L457.5,59.6 L459.0,60.3 L460.5,60.9 L462.0,61.6 L463.5,62.3 L465.0,63.1 L466.5,63.9 L468.0,64.7 L469.5,65.5 L471.0,66.4 L472.5,67.3 L474.0,68.2 L475.5,69.1 L477.0,70.1 L478.5,71.1 L480.0,72.1 L481.5,73.1 L483.0,74.2 L484.5,75.3 L486.0,76.4 L487.5,77.6 L489.0,78.7 L490.5,79.9 L492.0,81.1 L493.5,82.4 L495.0,83.6 L496.5,84.9 L498.0,86.2 L499.5,87.5 L501.0,88.9 L502.5,90.2 L504.0,91.6 L505.5,93.0 L507.0,94.4 L508.5,95.9 L510.0,97.3 L511.5,98.8 L513.0,100.2 L514.5,101.7 L516.0,103.2 L517.5,104.8 L519.0,106.3 L520.5,107.8 L522.0,109.4 L523.5,111.0 L525.0,112.5 L526.5,114.1 L528.0,115.7 L529.5,117.3 L531.0,118.9 L532.5,120.5 L534.0,122.2 L535.5,123.8 L537.0,125.4 L538.5,127.1 L540.0,128.7 L541.5,130.4 L543.0,132.0 L544.5,133.7 L546.0,135.3 L547.5,136.9 L549.0,138.6 L550.5,140.2 L552.0,141.9 L553.5,143.5 L555.0,145.1 L556.5,146.7 L558.0,148.3 L559.5,149.9 L561.0,151.5 L562.5,153.0 L564.0,154.6 L565.5,156.1 L567.0,157.6 L568.5,159.1 L570.0,160.5 L571.5,161.9 L573.0,163.3 L574.5,164.7 L576.0,166.0 L577.5,167.2 L579.0,168.5 L580.5,169.7 L582.0,170.8 L583.5,172.0 L585.0,173.0 L586.5,174.0 L588.0,175.0 L589.5,175.9 L591.0,176.8 L592.5,177.6 L594.0,178.4 L595.5,179.2 L597.0,179.9 L598.5,180.5 L600.0,181.1 L601.5,181.7 L603.0,182.2 L604.5,182.7 L606.0,183.2 L607.5,183.6 L609.0,184.0 L610.5,184.4 L612.0,184.7 L613.5,185.0 L615.0,185.3 L616.5,185.6 L618.0,185.9 L619.5,186.1 L621.0,186.4 L622.5,186.6 L624.0,186.8 L625.5,187.0 L627.0,187.2 L628.5,187.3 L630.0,187.5 L631.5,187.6 L633.0,187.8 L634.5,187.9 L636.0,188.1 L637.5,188.2 L639.0,188.3 L640.5,188.4 L642.0,188.6 L643.5,188.7 L645.0,188.8 L646.5,188.9" fill="none" stroke="#ff00ff" stroke-width="4.2" stroke-linecap="round" stroke-linejoin="round"/>
<path d="M399.0,58.0 L400.5,58.2 L402.0,58.5 L403.5,58.7 L405.0,58.9 L406.5,59.1 L408.0,59.3 L409.5,59.6 L411.0,59.8 L412.5,60.0 L414.0,60.2 L415.5,60.5 L417.0,60.7 L418.5,60.9 L420.0,61.2 L421.5,61.4 L423.0,61.6 L424.5,61.8 L426.0,62.1 L427.5,62.3 L429.0,62.6 L430.5,62.8 L432.0,63.1 L433.5,63.3 L435.0,63.6 L436.5,63.9 L438.0,64.1 L439.5,64.4 L441.0,64.7 L442.5,65.0 L444.0,65.4 L445.5,65.7 L447.0,66.1 L448.5,66.5 L450.0,66.9 L451.5,67.4 L453.0,67.8 L454.5,68.4 L456.0,68.9 L457.5,69.5 L459.0,70.2 L460.5,70.8 L462.0,71.6 L463.5,72.3 L465.0,73.1 L466.5,74.0 L468.0,74.9 L469.5,75.8 L471.0,76.8 L472.5,77.8 L474.0,78.9 L475.5,79.9 L477.0,81.0 L478.5,82.1 L480.0,83.3 L481.5,84.4 L483.0,85.6 L484.5,86.8 L486.0,88.0 L487.5,89.2 L489.0,90.4 L490.5,91.6 L492.0,92.9 L493.5,94.1 L495.0,95.3 L496.5,96.6 L498.0,97.8 L499.5,99.1 L501.0,100.3 L502.5,101.6 L504.0,102.8 L505.5,104.1 L507.0,105.3 L508.5,106.6 L510.0,107.9 L511.5,109.1 L513.0,110.4 L514.5,111.6 L516.0,112.9 L517.5,114.2 L519.0,115.4 L520.5,116.7 L522.0,118.0 L523.5,119.2 L525.0,120.5 L526.5,121.7 L528.0,123.0 L529.5,124.3 L531.0,125.5 L532.5,126.8 L534.0,128.1 L535.5,129.3 L537.0,130.6 L538.5,131.8 L540.0,133.1 L541.5,134.4 L543.0,135.6 L544.5,136.9 L546.0,138.2 L547.5,139.4 L549.0,140.7 L550.5,141.9 L552.0,143.2 L553.5,144.5 L555.0,145.7 L556.5,147.0 L558.0,148.3 L559.5,149.5 L561.0,150.8 L562.5,152.1 L564.0,153.3 L565.5,154.6 L567.0,155.8 L568.5,157.1 L570.0,158.4 L571.5,159.6 L573.0,160.9 L574.5,162.2 L576.0,163.4 L577.5,164.7 L579.0,166.0 L580.5,167.2 L582.0,168.5 L583.5,169.7 L585.0,171.0 L586.5,172.2 L588.0,173.5 L589.5,174.7 L591.0,175.8 L592.5,176.7 L594.0,177.3 L595.5,177.8 L597.0,178.3 L598.5,178.6 L600.0,179.0 L601.5,179.4 L603.0,179.7 L604.5,180.1 L606.0,180.4 L607.5,180.8 L609.0,181.1 L610.5,181.5 L612.0,181.8 L613.5,182.2 L615.0,182.5 L616.5,182.9 L618.0,183.2 L619.5,183.6 L621.0,183.9 L622.5,184.3 L624.0,184.6 L625.5,185.0 L627.0,185.3 L628.5,185.7 L630.0,186.0 L631.5,186.4 L633.0,186.7 L634.5,187.1 L636.0,187.4 L637.5,187.8 L639.0,188.1 L640.5,188.5 L642.0,188.8 L643.5,189.2 L645.0,189.5 L646.5,189.9" fill="none" stroke="#ff0000" stroke-width="4.0" stroke-linecap="round" stroke-linejoin="round"/>
<path d="M399.0,50.3 L400.5,50.2 L402.0,50.1 L403.5,50.1 L405.0,50.0 L406.5,50.0 L408.0,49.9 L409.5,49.9 L411.0,49.9 L412.5,49.8 L414.0,49.8 L415.5,49.8 L417.0,49.8 L418.5,49.8 L420.0,49.8 L421.5,49.8 L423.0,49.9 L424.5,49.9 L426.0,50.0 L427.5,50.0 L429.0,50.1 L430.5,50.2 L432.0,50.3 L433.5,50.5 L435.0,50.6 L436.5,50.8 L438.0,51.0 L439.5,51.2 L441.0,51.4 L442.5,51.6 L444.0,51.9 L445.5,52.2 L447.0,52.5 L448.5,52.8 L450.0,53.2 L451.5,53.6 L453.0,54.0 L454.5,54.5 L456.0,55.0 L457.5,55.5 L459.0,56.1 L460.5,56.7 L462.0,57.3 L463.5,58.0 L465.0,58.7 L466.5,59.4 L468.0,60.2 L469.5,61.0 L471.0,61.9 L472.5,62.8 L474.0,63.8 L475.5,64.7 L477.0,65.7 L478.5,66.8 L480.0,67.9 L481.5,69.0 L483.0,70.2 L484.5,71.4 L486.0,72.7 L487.5,73.9 L489.0,75.3 L490.5,76.6 L492.0,78.0 L493.5,79.4 L495.0,80.8 L496.5,82.3 L498.0,83.8 L499.5,85.3 L501.0,86.9 L502.5,88.4 L504.0,90.0 L505.5,91.6 L507.0,93.3 L508.5,94.9 L510.0,96.6 L511.5,98.3 L513.0,99.9 L514.5,101.7 L516.0,103.4 L517.5,105.1 L519.0,106.8 L520.5,108.6 L522.0,110.4 L523.5,112.1 L525.0,113.9 L526.5,115.6 L528.0,117.4 L529.5,119.2 L531.0,121.0 L532.5,122.7 L534.0,124.5 L535.5,126.3 L537.0,128.0 L538.5,129.8 L540.0,131.6 L541.5,133.3 L543.0,135.0 L544.5,136.7 L546.0,138.5 L547.5,140.2 L549.0,141.8 L550.5,143.5 L552.0,145.2 L553.5,146.8 L555.0,148.4 L556.5,150.0 L558.0,151.6 L559.5,153.1 L561.0,154.6 L562.5,156.1 L564.0,157.6 L565.5,159.1 L567.0,160.5 L568.5,161.9 L570.0,163.2 L571.5,164.5 L573.0,165.8 L574.5,167.1 L576.0,168.3 L577.5,169.5 L579.0,170.7 L580.5,171.8 L582.0,172.9 L583.5,174.0 L585.0,175.0 L586.5,176.0 L588.0,177.0 L589.5,178.0 L591.0,178.9 L592.5,179.7 L594.0,180.6 L595.5,181.4 L597.0,182.2 L598.5,183.0 L600.0,183.8 L601.5,184.5 L603.0,185.2 L604.5,185.9 L606.0,186.5 L607.5,187.2 L609.0,187.8 L610.5,188.4 L612.0,189.0 L613.5,189.6 L615.0,190.2 L616.5,190.7 L618.0,191.3 L619.5,191.8 L621.0,192.3 L622.5,192.8 L624.0,193.3 L625.5,193.8 L627.0,194.3 L628.5,194.8 L630.0,195.2 L631.5,195.7 L633.0,196.1 L634.5,196.6 L636.0,197.0 L637.5,197.5 L639.0,197.9 L640.5,198.3 L642.0,198.8 L643.5,199.2 L645.0,199.6 L646.5,200.0" fill="none" stroke="#008000" stroke-width="4.4" stroke-linecap="round" stroke-linejoin="round"/>
<path d="M399.0,41.4 L400.5,41.6 L402.0,41.7 L403.5,41.9 L405.0,42.1 L406.5,42.3 L408.0,42.5 L409.5,42.7 L411.0,42.9 L412.5,43.1 L414.0,43.3 L415.5,43.5 L417.0,43.8 L418.5,44.0 L420.0,44.3 L421.5,44.5 L423.0,44.8 L424.5,45.1 L426.0,45.5 L427.5,45.8 L429.0,46.2 L430.5,46.6 L432.0,47.1 L433.5,47.5 L435.0,48.1 L436.5,48.6 L438.0,49.2 L439.5,49.9 L441.0,50.6 L442.5,51.3 L444.0,52.1 L445.5,53.0 L447.0,53.9 L448.5,54.8 L450.0,55.7 L451.5,56.7 L453.0,57.7 L454.5,58.8 L456.0,59.8 L457.5,60.9 L459.0,62.0 L460.5,63.2 L462.0,64.3 L463.5,65.5 L465.0,66.6 L466.5,67.8 L468.0,69.0 L469.5,70.2 L471.0,71.3 L472.5,72.5 L474.0,73.7 L475.5,74.9 L477.0,76.1 L478.5,77.3 L480.0,78.5 L481.5,79.8 L483.0,81.0 L484.5,82.2 L486.0,83.4 L487.5,84.6 L489.0,85.8 L490.5,87.0 L492.0,88.3 L493.5,89.5 L495.0,90.7 L496.5,91.9 L498.0,93.1 L499.5,94.3 L501.0,95.5 L502.5,96.8 L504.0,98.0 L505.5,99.2 L507.0,100.4 L508.5,101.6 L510.0,102.8 L511.5,104.1 L513.0,105.3 L514.5,106.5 L516.0,107.7 L517.5,108.9 L519.0,110.2 L520.5,111.4 L522.0,112.6 L523.5,113.8 L525.0,115.0 L526.5,116.2 L528.0,117.5 L529.5,118.7 L531.0,119.9 L532.5,121.1 L534.0,122.3 L535.5,123.5 L537.0,124.8 L538.5,126.0 L540.0,127.2 L541.5,128.4 L543.0,129.6 L544.5,130.8 L546.0,132.1 L547.5,133.3 L549.0,134.5 L550.5,135.7 L552.0,136.9 L553.5,138.1 L555.0,139.3 L556.5,140.5 L558.0,141.8 L559.5,143.0 L561.0,144.2 L562.5,145.4 L564.0,146.6 L565.5,147.8 L567.0,149.0 L568.5,150.2 L570.0,151.4 L571.5,152.6 L573.0,153.8 L574.5,155.0 L576.0,156.2 L577.5,157.3 L579.0,158.5 L580.5,159.7 L582.0,160.8 L583.5,162.0 L585.0,163.1 L586.5,164.3 L588.0,165.4 L589.5,166.5 L591.0,167.6 L592.5,168.7 L594.0,169.8 L595.5,170.9 L597.0,171.9 L598.5,172.9 L600.0,173.9 L601.5,174.9 L603.0,175.8 L604.5,176.7 L606.0,177.6 L607.5,178.5 L609.0,179.3 L610.5,180.1 L612.0,180.9 L613.5,181.6 L615.0,182.3 L616.5,183.0 L618.0,183.6 L619.5,184.2 L621.0,184.7 L622.5,185.3 L624.0,185.8 L625.5,186.3 L627.0,186.7 L628.5,187.1 L630.0,187.5 L631.5,187.9 L633.0,188.3 L634.5,188.6 L636.0,189.0 L637.5,189.3 L639.0,189.6 L640.5,189.9 L642.0,190.1 L643.5,190.4 L645.0,190.7 L646.5,190.9" fill="none" stroke="#ffc000" stroke-width="4.6" stroke-linecap="round" stroke-linejoin="round"/>
<path d="M399.0,22.4 L400.5,22.5 L402.0,22.6 L403.5,22.7 L405.0,22.8 L406.5,23.0 L408.0,23.1 L409.5,23.2 L411.0,23.3 L412.5,23.5 L414.0,23.6 L415.5,23.7 L417.0,23.9 L418.5,24.0 L420.0,24.2 L421.5,24.3 L423.0,24.5 L424.5,24.7 L426.0,24.9 L427.5,25.1 L429.0,25.3 L430.5,25.5 L432.0,25.8 L433.5,26.0 L435.0,26.3 L436.5,26.6 L438.0,26.9 L439.5,27.3 L441.0,27.6 L442.5,28.0 L444.0,28.4 L445.5,28.9 L447.0,29.4 L448.5,29.9 L450.0,30.5 L451.5,31.1 L453.0,31.7 L454.5,32.4 L456.0,33.1 L457.5,33.9 L459.0,34.8 L460.5,35.6 L462.0,36.6 L463.5,37.5 L465.0,38.6 L466.5,39.6 L468.0,40.7 L469.5,41.9 L471.0,43.1 L472.5,44.4 L474.0,45.6 L475.5,47.0 L477.0,48.3 L478.5,49.7 L480.0,51.1 L481.5,52.6 L483.0,54.1 L484.5,55.6 L486.0,57.1 L487.5,58.7 L489.0,60.2 L490.5,61.8 L492.0,63.4 L493.5,65.0 L495.0,66.6 L496.5,68.3 L498.0,69.9 L499.5,71.6 L501.0,73.3 L502.5,74.9 L504.0,76.6 L505.5,78.3 L507.0,80.0 L508.5,81.7 L510.0,83.4 L511.5,85.1 L513.0,86.8 L514.5,88.6 L516.0,90.3 L517.5,92.0 L519.0,93.7 L520.5,95.5 L522.0,97.2 L523.5,98.9 L525.0,100.6 L526.5,102.4 L528.0,104.1 L529.5,105.8 L531.0,107.6 L532.5,109.3 L534.0,111.0 L535.5,112.8 L537.0,114.5 L538.5,116.2 L540.0,118.0 L541.5,119.7 L543.0,121.4 L544.5,123.2 L546.0,124.9 L547.5,126.6 L549.0,128.3 L550.5,130.1 L552.0,131.8 L553.5,133.5 L555.0,135.2 L556.5,136.9 L558.0,138.7 L559.5,140.4 L561.0,142.1 L562.5,143.8 L564.0,145.4 L565.5,147.1 L567.0,148.8 L568.5,150.4 L570.0,152.1 L571.5,153.7 L573.0,155.4 L574.5,157.0 L576.0,158.5 L577.5,160.1 L579.0,161.7 L580.5,163.2 L582.0,164.7 L583.5,166.1 L585.0,167.6 L586.5,169.0 L588.0,170.3 L589.5,171.6 L591.0,172.9 L592.5,174.1 L594.0,175.3 L595.5,176.5 L597.0,177.6 L598.5,178.6 L600.0,179.6 L601.5,180.5 L603.0,181.5 L604.5,182.3 L606.0,183.1 L607.5,183.9 L609.0,184.6 L610.5,185.3 L612.0,186.0 L613.5,186.6 L615.0,187.2 L616.5,187.7 L618.0,188.3 L619.5,188.8 L621.0,189.3 L622.5,189.8 L624.0,190.3 L625.5,190.7 L627.0,191.1 L628.5,191.6 L630.0,192.0 L631.5,192.4 L633.0,192.8 L634.5,193.2 L636.0,193.6 L637.5,194.0 L639.0,194.3 L640.5,194.7 L642.0,195.1 L643.5,195.4 L645.0,195.8 L646.5,196.2" fill="none" stroke="#800000" stroke-width="3.6" stroke-linecap="round" stroke-linejoin="round"/>
<rect x="392.3" y="7.0" width="256.3" height="280.0" fill="none" stroke="#000" stroke-width="2.4"/>
<line x1="388.7" y1="7.0" x2="392.3" y2="7.0" stroke="#000" stroke-width="2.2"/>
<text transform="translate(385.5,12.3) scale(0.800,1)" text-anchor="end" font-size="16.0" font-weight="bold">3.5</text>
<line x1="388.7" y1="38.1" x2="392.3" y2="38.1" stroke="#000" stroke-width="2.2"/>
<text transform="translate(385.5,43.4) scale(0.800,1)" text-anchor="end" font-size="16.0" font-weight="bold">3.0</text>
<line x1="388.7" y1="69.2" x2="392.3" y2="69.2" stroke="#000" stroke-width="2.2"/>
<text transform="translate(385.5,74.5) scale(0.800,1)" text-anchor="end" font-size="16.0" font-weight="bold">2.5</text>
<line x1="388.7" y1="100.3" x2="392.3" y2="100.3" stroke="#000" stroke-width="2.2"/>
<text transform="translate(385.5,105.6) scale(0.800,1)" text-anchor="end" font-size="16.0" font-weight="bold">2.0</text>
<line x1="388.7" y1="131.4" x2="392.3" y2="131.4" stroke="#000" stroke-width="2.2"/>
<text transform="translate(385.5,136.7) scale(0.800,1)" text-anchor="end" font-size="16.0" font-weight="bold">1.5</text>
<line x1="388.7" y1="162.6" x2="392.3" y2="162.6" stroke="#000" stroke-width="2.2"/>
<text transform="translate(385.5,167.9) scale(0.800,1)" text-anchor="end" font-size="16.0" font-weight="bold">1.0</text>
<line x1="388.7" y1="193.7" x2="392.3" y2="193.7" stroke="#000" stroke-width="2.2"/>
<text transform="translate(385.5,199.0) scale(0.800,1)" text-anchor="end" font-size="16.0" font-weight="bold">0.5</text>
<line x1="388.7" y1="224.8" x2="392.3" y2="224.8" stroke="#000" stroke-width="2.2"/>
<text transform="translate(385.5,230.1) scale(0.800,1)" text-anchor="end" font-size="16.0" font-weight="bold">0.0</text>
<line x1="388.7" y1="255.9" x2="392.3" y2="255.9" stroke="#000" stroke-width="2.2"/>
<text transform="translate(385.5,261.2) scale(0.800,1)" text-anchor="end" font-size="16.0" font-weight="bold">-0.5</text>
<line x1="388.7" y1="287.0" x2="392.3" y2="287.0" stroke="#000" stroke-width="2.2"/>
<text transform="translate(385.5,292.3) scale(0.800,1)" text-anchor="end" font-size="16.0" font-weight="bold">-1.0</text>
<line x1="390.1" y1="22.6" x2="392.3" y2="22.6" stroke="#000" stroke-width="1.6"/>
<line x1="390.1" y1="53.7" x2="392.3" y2="53.7" stroke="#000" stroke-width="1.6"/>
<line x1="390.1" y1="84.8" x2="392.3" y2="84.8" stroke="#000" stroke-width="1.6"/>
<line x1="390.1" y1="115.9" x2="392.3" y2="115.9" stroke="#000" stroke-width="1.6"/>
<line x1="390.1" y1="147.0" x2="392.3" y2="147.0" stroke="#000" stroke-width="1.6"/>
<line x1="390.1" y1="178.1" x2="392.3" y2="178.1" stroke="#000" stroke-width="1.6"/>
<line x1="390.1" y1="209.2" x2="392.3" y2="209.2" stroke="#000" stroke-width="1.6"/>
<line x1="390.1" y1="240.3" x2="392.3" y2="240.3" stroke="#000" stroke-width="1.6"/>
<line x1="390.1" y1="271.4" x2="392.3" y2="271.4" stroke="#000" stroke-width="1.6"/>
<line x1="648.6" y1="7.0" x2="652.2" y2="7.0" stroke="#000" stroke-width="2.2"/>
<text transform="translate(654.6,12.3) scale(0.800,1)" text-anchor="start" font-size="16.0" font-weight="bold">60</text>
<line x1="648.6" y1="50.0" x2="652.2" y2="50.0" stroke="#000" stroke-width="2.2"/>
<text transform="translate(654.6,55.3) scale(0.800,1)" text-anchor="start" font-size="16.0" font-weight="bold">40</text>
<line x1="648.6" y1="93.0" x2="652.2" y2="93.0" stroke="#000" stroke-width="2.2"/>
<text transform="translate(654.6,98.3) scale(0.800,1)" text-anchor="start" font-size="16.0" font-weight="bold">20</text>
<line x1="648.6" y1="136.0" x2="652.2" y2="136.0" stroke="#000" stroke-width="2.2"/>
<text transform="translate(654.6,141.3) scale(0.800,1)" text-anchor="start" font-size="16.0" font-weight="bold">0</text>
<line x1="648.6" y1="179.0" x2="652.2" y2="179.0" stroke="#000" stroke-width="2.2"/>
<text transform="translate(654.6,184.3) scale(0.800,1)" text-anchor="start" font-size="16.0" font-weight="bold">-20</text>
<line x1="648.6" y1="222.0" x2="652.2" y2="222.0" stroke="#000" stroke-width="2.2"/>
<text transform="translate(654.6,227.3) scale(0.800,1)" text-anchor="start" font-size="16.0" font-weight="bold">-40</text>
<line x1="648.6" y1="265.0" x2="652.2" y2="265.0" stroke="#000" stroke-width="2.2"/>
<text transform="translate(654.6,270.3) scale(0.800,1)" text-anchor="start" font-size="16.0" font-weight="bold">-60</text>
<line x1="648.6" y1="28.5" x2="650.8" y2="28.5" stroke="#000" stroke-width="1.8"/>
<line x1="648.6" y1="71.5" x2="650.8" y2="71.5" stroke="#000" stroke-width="1.8"/>
<line x1="648.6" y1="114.5" x2="650.8" y2="114.5" stroke="#000" stroke-width="1.8"/>
<line x1="648.6" y1="157.5" x2="650.8" y2="157.5" stroke="#000" stroke-width="1.8"/>
<line x1="648.6" y1="200.5" x2="650.8" y2="200.5" stroke="#000" stroke-width="1.8"/>
<line x1="648.6" y1="243.5" x2="650.8" y2="243.5" stroke="#000" stroke-width="1.8"/>
<line x1="411.9" y1="287.0" x2="411.9" y2="291.0" stroke="#000" stroke-width="2.2"/>
<text transform="translate(411.9,308.5) scale(0.800,1)" text-anchor="middle" font-size="16.0" font-weight="bold">-1</text>
<line x1="451.3" y1="287.0" x2="451.3" y2="291.0" stroke="#000" stroke-width="2.2"/>
<text transform="translate(451.3,308.5) scale(0.800,1)" text-anchor="middle" font-size="16.0" font-weight="bold">0</text>
<line x1="490.8" y1="287.0" x2="490.8" y2="291.0" stroke="#000" stroke-width="2.2"/>
<text transform="translate(490.8,308.5) scale(0.800,1)" text-anchor="middle" font-size="16.0" font-weight="bold">1</text>
<line x1="530.2" y1="287.0" x2="530.2" y2="291.0" stroke="#000" stroke-width="2.2"/>
<text transform="translate(530.2,308.5) scale(0.800,1)" text-anchor="middle" font-size="16.0" font-weight="bold">2</text>
<line x1="569.6" y1="287.0" x2="569.6" y2="291.0" stroke="#000" stroke-width="2.2"/>
<text transform="translate(569.6,308.5) scale(0.800,1)" text-anchor="middle" font-size="16.0" font-weight="bold">3</text>
<line x1="609.1" y1="287.0" x2="609.1" y2="291.0" stroke="#000" stroke-width="2.2"/>
<text transform="translate(609.1,308.5) scale(0.800,1)" text-anchor="middle" font-size="16.0" font-weight="bold">4</text>
<line x1="648.5" y1="287.0" x2="648.5" y2="291.0" stroke="#000" stroke-width="2.2"/>
<text transform="translate(648.5,308.5) scale(0.800,1)" text-anchor="middle" font-size="16.0" font-weight="bold">5</text>
<line x1="431.6" y1="287.0" x2="431.6" y2="289.5" stroke="#000" stroke-width="1.8"/>
<line x1="471.0" y1="287.0" x2="471.0" y2="289.5" stroke="#000" stroke-width="1.8"/>
<line x1="510.5" y1="287.0" x2="510.5" y2="289.5" stroke="#000" stroke-width="1.8"/>
<line x1="549.9" y1="287.0" x2="549.9" y2="289.5" stroke="#000" stroke-width="1.8"/>
<line x1="589.4" y1="287.0" x2="589.4" y2="289.5" stroke="#000" stroke-width="1.8"/>
<line x1="628.8" y1="287.0" x2="628.8" y2="289.5" stroke="#000" stroke-width="1.8"/>
<ellipse cx="240.2" cy="18.9" rx="1.8" ry="2.0" fill="#0000ff"/>
<text transform="translate(249.5,21.5) scale(0.780,1.000)" text-anchor="start" font-size="10.7" font-weight="bold">Blank</text>
<ellipse cx="240.2" cy="34.9" rx="1.8" ry="2.0" fill="#ff0000"/>
<text transform="translate(249.5,37.5) scale(0.780,1)" font-size="10.7" font-weight="bold">5 x10 <tspan font-size="10" dy="-4.3">-6</tspan><tspan dy="4.3"> M</tspan></text>
<ellipse cx="240.2" cy="51.3" rx="1.8" ry="2.0" fill="#ff00ff"/>
<text transform="translate(249.5,53.9) scale(0.780,1)" font-size="10.7" font-weight="bold">1 x10 <tspan font-size="10" dy="-4.3">-4</tspan><tspan dy="4.3"> M</tspan></text>
<ellipse cx="240.2" cy="67.6" rx="1.8" ry="2.0" fill="#008000"/>
<text transform="translate(249.5,70.2) scale(0.780,1)" font-size="10.7" font-weight="bold">1 x10 <tspan font-size="10" dy="-4.3">-3</tspan><tspan dy="4.3"> M</tspan></text>
<ellipse cx="240.2" cy="84.1" rx="1.8" ry="2.0" fill="#ffc000"/>
<text transform="translate(249.5,86.7) scale(0.780,1)" font-size="10.7" font-weight="bold">5 x10 <tspan font-size="10" dy="-4.3">-3</tspan><tspan dy="4.3"> M</tspan></text>
<ellipse cx="240.2" cy="100.5" rx="1.8" ry="2.0" fill="#800000"/>
<text transform="translate(249.5,103.1) scale(0.780,1)" font-size="10.7" font-weight="bold">1 x10 <tspan font-size="10" dy="-4.3">-2</tspan><tspan dy="4.3"> M</tspan></text>
<line x1="231.8" y1="112.9" x2="248.0" y2="112.9" stroke="#800000" stroke-width="3.2"/>
<text transform="translate(249.5,116.2) scale(0.780,1.000)" text-anchor="start" font-size="10.5" font-weight="bold">Fitted line</text>
<text transform="translate(169.4,27.0) scale(0.755,1.000)" text-anchor="start" font-size="16.4" font-weight="bold">DHSiMF</text>
<ellipse cx="589.1" cy="18.7" rx="1.8" ry="2.0" fill="#0000ff"/>
<text transform="translate(598.5,21.3) scale(0.780,1.000)" text-anchor="start" font-size="10.7" font-weight="bold">Blank</text>
<ellipse cx="589.1" cy="34.6" rx="1.8" ry="2.0" fill="#ff0000"/>
<text transform="translate(598.5,37.2) scale(0.780,1)" font-size="10.7" font-weight="bold">5 x10 <tspan font-size="10" dy="-4.3">-6</tspan><tspan dy="4.3"> M</tspan></text>
<ellipse cx="589.1" cy="50.9" rx="1.8" ry="2.0" fill="#ff00ff"/>
<text transform="translate(598.5,53.5) scale(0.780,1)" font-size="10.7" font-weight="bold">1 x10 <tspan font-size="10" dy="-4.3">-4</tspan><tspan dy="4.3"> M</tspan></text>
<ellipse cx="589.1" cy="67.2" rx="1.8" ry="2.0" fill="#008000"/>
<text transform="translate(598.5,69.8) scale(0.780,1)" font-size="10.7" font-weight="bold">1 x10 <tspan font-size="10" dy="-4.3">-3</tspan><tspan dy="4.3"> M</tspan></text>
<ellipse cx="589.1" cy="83.6" rx="1.8" ry="2.0" fill="#ffc000"/>
<text transform="translate(598.5,86.2) scale(0.780,1)" font-size="10.7" font-weight="bold">5 x10 <tspan font-size="10" dy="-4.3">-3</tspan><tspan dy="4.3"> M</tspan></text>
<ellipse cx="589.1" cy="99.4" rx="1.8" ry="2.0" fill="#800000"/>
<text transform="translate(598.5,102.0) scale(0.780,1)" font-size="10.7" font-weight="bold">1 x10 <tspan font-size="10" dy="-4.3">-2</tspan><tspan dy="4.3"> M</tspan></text>
<line x1="581.0" y1="112.0" x2="597.0" y2="112.0" stroke="#800000" stroke-width="3.2"/>
<text transform="translate(598.5,115.3) scale(0.780,1.000)" text-anchor="start" font-size="10.5" font-weight="bold">Fitted line</text>
<text transform="translate(523.3,25.6) scale(0.775,1.000)" text-anchor="start" font-size="16.8" font-weight="bold">DHSiB</text>
<text transform="translate(15.3,148.5) rotate(-90) scale(1.000,1.000)" text-anchor="middle" font-size="16.0" font-weight="bold">log Z (&#937; cm<tspan font-size="11" dy="-5">-2</tspan><tspan dy="5">)</tspan></text>
<text transform="translate(358.3,147.5) rotate(-90) scale(1.000,1.000)" text-anchor="middle" font-size="15.7" font-weight="bold">log Z (&#937; cm<tspan font-size="11" dy="-5">-2</tspan><tspan dy="5">)</tspan></text>
<text transform="translate(331.4,149.3) rotate(-90) scale(1.000,0.800)" text-anchor="middle" font-size="15.3" font-weight="bold">phase angle (<tspan font-size="11" dy="-5">o</tspan><tspan dy="5">)</tspan></text>
<text transform="translate(680.6,150.0) rotate(-90) scale(1.000,0.800)" text-anchor="middle" font-size="15.3" font-weight="bold">phase angle (<tspan font-size="11" dy="-5">o</tspan><tspan dy="5">)</tspan></text>
<text transform="translate(172.3,326.0) scale(0.760,1.000)" text-anchor="middle" font-size="16.4" font-weight="bold">log f (Hz)</text>
<text transform="translate(520.2,323.6) scale(0.760,1.000)" text-anchor="middle" font-size="16.4" font-weight="bold">log f (Hz)</text>
</svg></body></html>
